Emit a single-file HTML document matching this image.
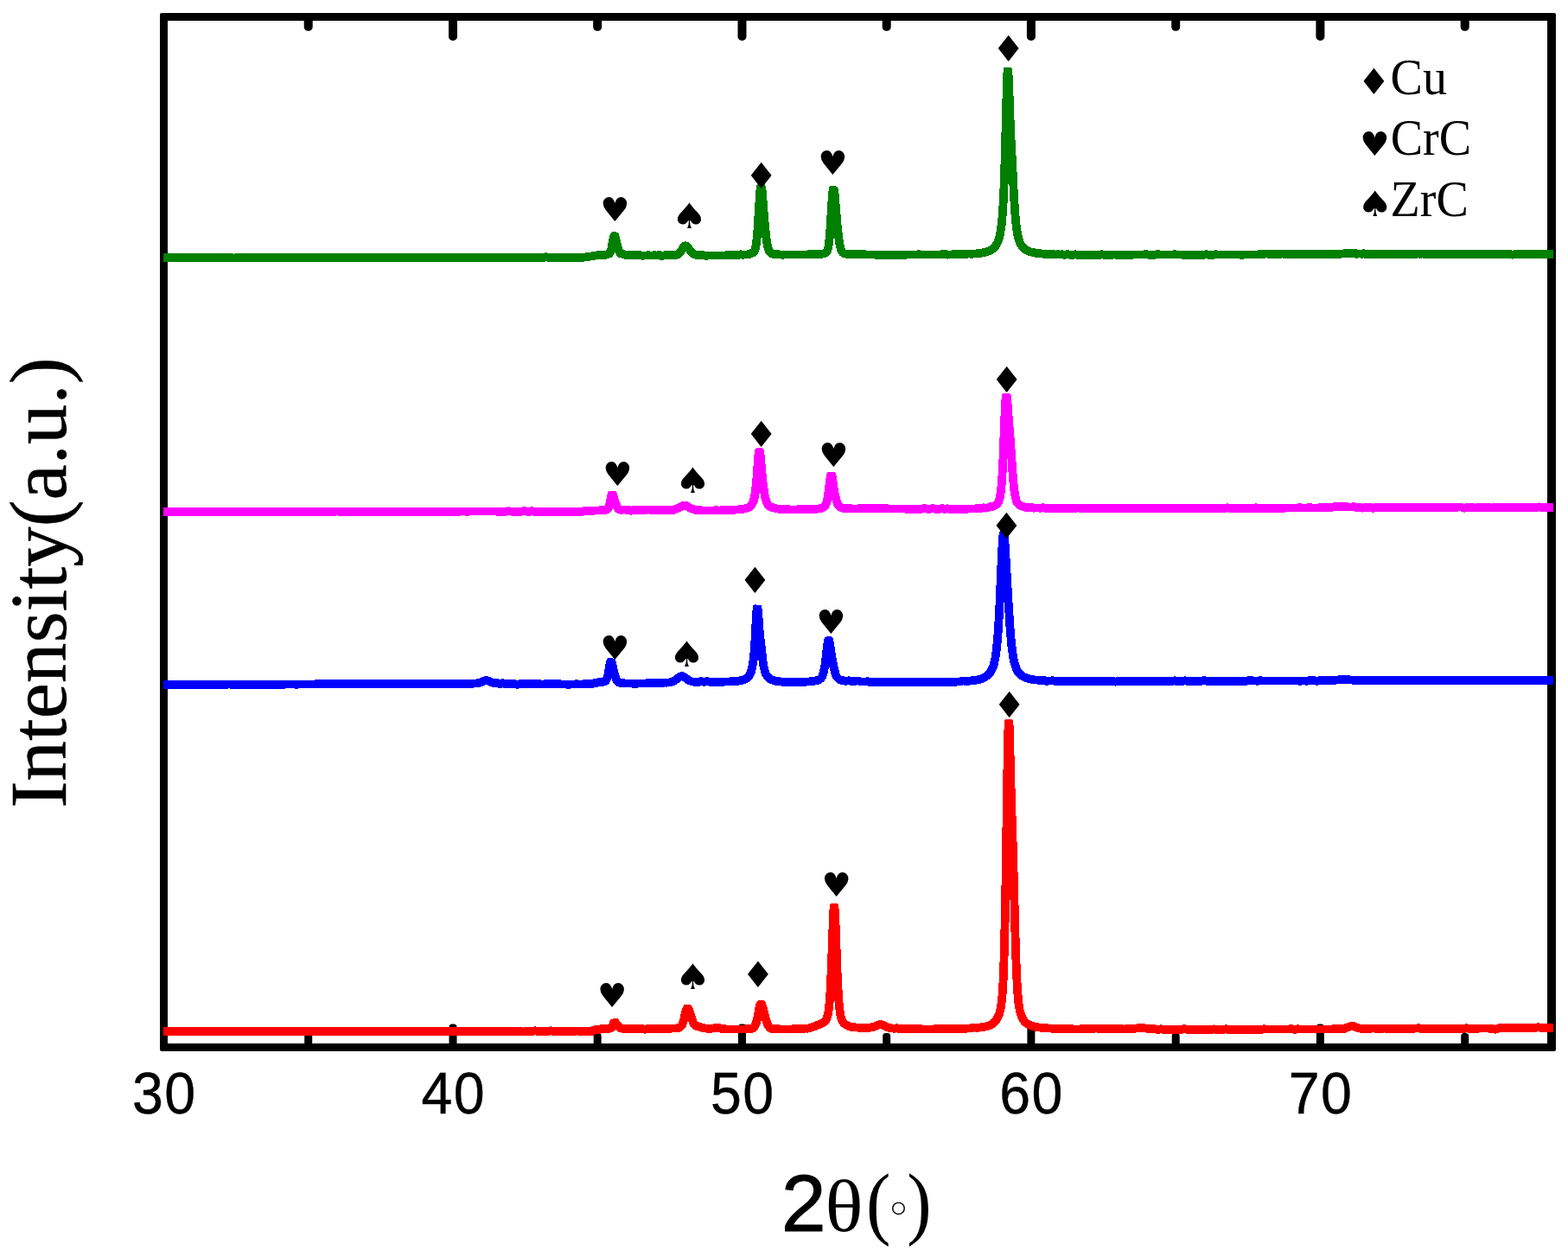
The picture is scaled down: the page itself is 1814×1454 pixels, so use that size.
<!DOCTYPE html>
<html lang="en">
<head>
<meta charset="utf-8">
<title>XRD patterns</title>
<style>
html,body{margin:0;padding:0;background:#fff;}
body{width:1814px;height:1454px;overflow:hidden;position:relative;}
svg{display:block;position:absolute;left:0;top:0;}
text{fill:#000;}
.tk{font-family:"Liberation Sans",sans-serif;text-anchor:middle;letter-spacing:1.4px;stroke:#000;stroke-width:0.4px;}
.ar{font-family:"Liberation Sans",sans-serif;stroke:#000;stroke-width:0.9px;}
.lg{font-family:"Liberation Serif",serif;}
.sy{font-family:"DejaVu Sans",sans-serif;text-anchor:middle;}
.yl{font-family:"Liberation Serif",serif;text-anchor:middle;stroke:#000;stroke-width:0.5px;}
</style>
</head>
<body>
<svg width="1814" height="1454" viewBox="0 0 1814 1454">
<rect x="0" y="0" width="1814" height="1454" fill="#fff"/>
<path fill="#000" d="M351.7 20V31.3A4.5 4.5 0 0 0 356.2 35.8H357.2A4.5 4.5 0 0 0 361.7 31.3V20ZM352.2 1211V1198.5A3.5 3.5 0 0 1 355.7 1195H357.7A3.5 3.5 0 0 1 361.2 1198.5V1211ZM519 20V42.4A4.5 4.5 0 0 0 523.5 46.9H524.5A4.5 4.5 0 0 0 529 42.4V20ZM519.5 1211V1188A3.5 3.5 0 0 1 523 1184.5H525A3.5 3.5 0 0 1 528.5 1188V1211ZM686.2 20V31.3A4.5 4.5 0 0 0 690.7 35.8H691.7A4.5 4.5 0 0 0 696.2 31.3V20ZM686.7 1211V1198.5A3.5 3.5 0 0 1 690.2 1195H692.2A3.5 3.5 0 0 1 695.7 1198.5V1211ZM853.5 20V42.4A4.5 4.5 0 0 0 858 46.9H859A4.5 4.5 0 0 0 863.5 42.4V20ZM854 1211V1188A3.5 3.5 0 0 1 857.5 1184.5H859.5A3.5 3.5 0 0 1 863 1188V1211ZM1020.7 20V31.3A4.5 4.5 0 0 0 1025.2 35.8H1026.2A4.5 4.5 0 0 0 1030.7 31.3V20ZM1021.2 1211V1198.5A3.5 3.5 0 0 1 1024.7 1195H1026.7A3.5 3.5 0 0 1 1030.2 1198.5V1211ZM1187.9 20V42.4A4.5 4.5 0 0 0 1192.4 46.9H1193.4A4.5 4.5 0 0 0 1197.9 42.4V20ZM1188.4 1211V1188A3.5 3.5 0 0 1 1191.9 1184.5H1193.9A3.5 3.5 0 0 1 1197.4 1188V1211ZM1355.2 20V31.3A4.5 4.5 0 0 0 1359.7 35.8H1360.7A4.5 4.5 0 0 0 1365.2 31.3V20ZM1355.7 1211V1198.5A3.5 3.5 0 0 1 1359.2 1195H1361.2A3.5 3.5 0 0 1 1364.7 1198.5V1211ZM1522.4 20V42.4A4.5 4.5 0 0 0 1526.9 46.9H1527.9A4.5 4.5 0 0 0 1532.4 42.4V20ZM1522.9 1211V1188A3.5 3.5 0 0 1 1526.4 1184.5H1528.4A3.5 3.5 0 0 1 1531.9 1188V1211ZM1689.7 20V31.3A4.5 4.5 0 0 0 1694.2 35.8H1695.2A4.5 4.5 0 0 0 1699.7 31.3V20ZM1690.2 1211V1198.5A3.5 3.5 0 0 1 1693.7 1195H1695.7A3.5 3.5 0 0 1 1699.2 1198.5V1211Z"/>
<path fill="#000" fill-rule="evenodd" d="M187 15H1798A2 2 0 0 1 1800 17V1214A2 2 0 0 1 1798 1216H187A2 2 0 0 1 185 1214V17A2 2 0 0 1 187 15ZM194 24H1790V1207H194Z"/>
<path fill="#ff0000" fill-rule="evenodd" shape-rendering="crispEdges" d="M189 1197.8L191.7 1197.8L193.1 1198L193.7 1198L195.4 1197.8L197.9 1197.8L199.6 1197.6L201 1197.6L202.6 1197.9L230.9 1197.9L232 1197.8L237.8 1197.8L239.4 1197.7L241 1197.8L256.7 1197.8L257.7 1197.7L259.8 1197.9L265.1 1197.9L266.6 1197.7L267.3 1197.7L269 1197.9L276.5 1197.9L277.8 1198.1L279.2 1198.1L280.7 1197.9L285.4 1197.9L287.1 1197.7L288.3 1197.7L290 1197.9L294 1197.9L310.7 1197.9L312.2 1197.7L313.7 1197.9L317 1197.9L318.3 1198.1L319 1198.1L320.7 1197.9L329.7 1197.9L330.6 1197.8L354.5 1197.8L355.7 1197.9L368.7 1198L370.1 1197.8L370.9 1197.7L372.6 1198L388.4 1198L389.5 1197.9L399.6 1197.9L401.1 1197.7L401.8 1197.7L403.3 1197.9L412 1197.9L413.1 1198L429 1198L430.4 1197.8L431.6 1197.8L433 1198.1L433.8 1198.2L436.6 1197.8L464.3 1197.8L465.6 1198L477.3 1198L478.7 1197.8L488.4 1197.8L490.9 1197.6L491.5 1197.6L493 1197.8L512.3 1197.8L514 1198L515.7 1198L517.5 1197.8L521.3 1197.8L522.9 1197.7L524.7 1197.9L529.1 1197.9L530.8 1198.1L533.2 1198.1L534.9 1197.9L540.2 1197.9L542 1197.7L543 1197.7L544.8 1197.9L557.3 1197.9L558.1 1197.8L559.4 1197.7L590 1197.7L591.7 1197.9L602.4 1197.9L602.7 1197.9L603.7 1198.2L604.5 1198.3L605.8 1198.3L606.6 1198.2L607.6 1197.9L607.9 1197.9L616.9 1197.8L617.8 1197.7L618.8 1197.3L619.2 1197.2L619.5 1197.3L620.5 1197.7L621.4 1197.8L624.8 1197.8L626.2 1198.1L626.8 1198.2L627.5 1198.1L628.9 1197.8L630.3 1197.8L631.1 1197.7L632.1 1197.4L633.1 1197.7L633.9 1197.8L635.1 1197.8L636 1197.7L637 1197.3L638 1197.7L638.9 1197.8L640.1 1197.8L641.3 1197.9L661.4 1197.9L662.8 1197.8L665.4 1197.8L666 1197.7L667.2 1197.4L667.9 1197.6L669.6 1198.1L670.2 1198.1L671.7 1198.1L672.3 1198.1L673.7 1197.8L677.2 1197.8L678.2 1197.8L679.7 1197.8L684 1197.8L685.7 1197.7L686.5 1197.5L687.3 1197.2L689.3 1196L690.9 1196.2L691.8 1196.2L693.4 1195.9L695.7 1195.2L696.2 1195.1L703 1194.9L706.4 1194.5L707.3 1194.3L708.4 1194L709.1 1193.6L710.1 1193L711 1192.1L712.2 1190.7L713 1191.6L713.8 1192.5L714.5 1193L715.7 1193.7L717 1194.2L717.9 1194.4L719.2 1194.6L720.7 1194.7L723.7 1194.8L728.7 1194.8L730.2 1195L743 1195L743.4 1195L744.4 1195.4L745.2 1195.5L747.2 1195.5L748 1195.4L749 1195L749.4 1195L752 1195L752.9 1194.8L753.5 1194.6L754.2 1194.8L755 1195L768.4 1195L770.2 1194.7L775 1194.6L778.6 1194.4L780.4 1194.5L783.3 1194.2L786 1193.7L787.1 1193.4L788.3 1192.9L789.2 1192.5L789.9 1192L790.8 1191.2L791.6 1190.4L792.3 1189.6L793 1188.6L794 1186.6L795 1184L796 1180.7L797 1183.6L798 1185.7L798.7 1186.9L799.6 1188.2L800.3 1189L801.1 1189.7L802.4 1190.6L804.1 1191.4L807.3 1192.3L808.8 1192.9L810.3 1193.2L813 1193.9L814.8 1194.3L817.2 1194.5L819.6 1194.7L821.9 1194.7L823.6 1194.6L825.3 1194.4L827 1194.1L829.1 1193.6L830 1193.5L830.5 1193.6L832 1194.2L834.2 1194.7L836.6 1195.1L839 1195.3L842.7 1195.4L849.8 1195.4L856.8 1195.4L861.8 1195.3L867 1195.1L868.7 1194.9L870.5 1194.6L871.8 1194.3L873 1193.8L873.8 1193.4L875.1 1192.5L876 1191.6L876.8 1190.6L877.8 1189L878.1 1188.3L879 1186.3L879.7 1184L880.5 1180.9L880.9 1178.9L882.2 1183.4L883 1185.6L883.8 1187.6L884.7 1189.4L886 1191.1L886.8 1192L887.4 1192.6L888.2 1193.2L889 1193.7L890.7 1194.4L892.7 1194.7L895.7 1195L899.3 1195.2L903.6 1195.3L907.8 1195.4L918.5 1195.3L923.5 1195.2L927.8 1195L930.2 1194.8L930.7 1194.8L932.3 1194.4L933.4 1194.5L934.2 1194.6L935.3 1194.4L937.6 1193.9L939.2 1193.6L942.4 1192.5L944.8 1191.6L952.5 1188.3L954.2 1187.5L955.5 1186.7L956.6 1186L957.4 1185.3L958.4 1184.2L959.5 1182.6L960.7 1180.4L961.6 1178.2L962.4 1175.2L963.1 1171.5L963.9 1166.2L964.6 1159L965.1 1152L965.3 1155.4L966 1163.7L966.8 1170.2L967.5 1174.5L968.2 1177.8L969 1180.4L969.9 1182.4L970.8 1184.2L972 1186L972.8 1186.9L973.7 1187.8L975 1188.9L976.8 1190.1L978.7 1191L980.6 1191.8L983.1 1192.5L984 1192.6L985.3 1192.8L988.5 1193.2L992.9 1193.6L998.8 1193.9L1003.3 1193.9L1005.7 1193.7L1007.4 1193.5L1009.1 1193.1L1012.4 1192.3L1014.1 1191.7L1017.4 1190.2L1018 1190.1L1018.3 1190L1019.4 1190.4L1024.6 1192.8L1026.2 1193.3L1027.9 1193.8L1029.5 1194.1L1031.2 1194.4L1035.2 1194.7L1035.7 1194.7L1037.2 1194.2L1038.2 1194.6L1039.4 1194.8L1054.9 1195.1L1056.4 1195.2L1061.4 1195.3L1062.3 1195.1L1063.3 1194.8L1063.7 1194.7L1064.3 1194.7L1064.7 1194.8L1065.7 1195.2L1066.5 1195.3L1074.5 1195.3L1080.3 1195.4L1081.2 1195.2L1082.6 1194.7L1083 1194.6L1083.6 1194.7L1084.6 1195L1085.5 1195.2L1099 1195.2L1109.6 1195L1115.7 1194.9L1117.5 1194.6L1125.5 1194.2L1126.3 1194L1127.4 1193.5L1127.8 1193.4L1128.2 1193.5L1129.1 1193.7L1130 1193.8L1134.6 1193.3L1136.3 1193.2L1137.6 1193L1140.7 1192.4L1143 1191.8L1145.4 1191L1147.3 1190.2L1149.7 1189L1151.5 1187.9L1153.3 1186.4L1154.4 1185.3L1156 1183.5L1157 1182L1157.9 1180.6L1158.6 1179.3L1159.5 1177.4L1160.4 1175.1L1161.1 1172.7L1161.9 1169.8L1162.6 1166.3L1163.4 1161.4L1164.1 1155.3L1164.8 1146.4L1165.5 1134.1L1166.2 1117L1166.9 1093.6L1167.6 1063L1168.2 1028.9L1169.7 1085.1L1170.4 1107L1171.1 1125L1171.8 1139.1L1172.5 1149.9L1173.2 1158.1L1173.9 1163.9L1174.7 1168.3L1175.5 1172.2L1176.3 1174.9L1177.1 1177.2L1177.9 1179.1L1178.8 1180.8L1179.5 1181.9L1180.4 1183.1L1181.5 1184.5L1182.4 1185.6L1184 1187L1185.1 1187.9L1186.9 1189L1188.6 1189.9L1190.4 1190.7L1192.7 1191.5L1195.1 1192.2L1197.5 1192.7L1200.4 1193.2L1206.6 1193.9L1207.1 1193.9L1208.5 1193.5L1209 1193.4L1209.5 1193.5L1209.9 1193.6L1211 1194.1L1211.9 1194.3L1219.8 1194.7L1221.5 1194.9L1226.5 1195.1L1227.4 1194.9L1228.4 1194.6L1228.8 1194.5L1229.3 1194.5L1229.8 1194.6L1230.8 1195L1231.7 1195.2L1236.1 1195.3L1238.6 1195.3L1240 1195L1241.4 1195.3L1249.7 1195.4L1250.6 1195.2L1252.3 1194.6L1253.3 1195L1254.1 1195.2L1264.5 1195.2L1265.3 1195.1L1267.6 1194.3L1267.9 1194.3L1268.4 1194.3L1269.4 1194.7L1269.8 1194.8L1270.8 1195.1L1271.6 1195.2L1275.6 1195.2L1276.5 1195.1L1277.5 1194.7L1278.6 1194.6L1278.9 1194.6L1279.9 1195L1280.7 1195.2L1289 1195.2L1289.8 1195.1L1291.4 1194.6L1293.2 1195.1L1294 1195.2L1298 1195.2L1299.3 1195.3L1301.6 1195.3L1302.4 1195.1L1303.1 1194.9L1303.8 1195.1L1304.6 1195.2L1307.8 1195.1L1310.8 1194.9L1318 1194L1320 1193.9L1321.8 1194L1326.5 1194.6L1328.8 1194.9L1331.9 1195.1L1336 1195.3L1337.9 1195.6L1340.8 1195.6L1341.5 1195.5L1342.9 1195.2L1343.3 1195.2L1344.3 1195.6L1345 1195.7L1362 1195.7L1363.7 1195.5L1368 1195.5L1368.9 1195.3L1369.9 1195L1370.8 1195.3L1371.8 1195.5L1388 1195.5L1389.7 1195.8L1403 1195.8L1403.9 1195.6L1404.5 1195.4L1405.1 1195.6L1406.1 1195.8L1407.6 1195.8L1409.1 1195.6L1416.3 1195.6L1417.2 1195.5L1418.2 1195.1L1419.1 1195.5L1420.1 1195.7L1440.1 1195.7L1441.4 1195.8L1452.3 1195.7L1454.1 1195.5L1461.1 1195.5L1462.1 1195.3L1462.7 1195.1L1463.3 1195.3L1464.2 1195.5L1491.3 1195.4L1492.1 1195.3L1493.1 1194.9L1493.5 1194.9L1494 1194.9L1494.5 1195L1495.5 1195.4L1496.4 1195.5L1499.7 1195.5L1500.6 1195.4L1501.2 1195.1L1501.8 1195.3L1502.7 1195.5L1532.3 1195.4L1543.6 1195.3L1550 1195.1L1553.7 1194.9L1556.3 1194.6L1557.6 1194.2L1558.3 1193.9L1560 1192.9L1561.7 1192.7L1564.3 1191.6L1567.6 1193L1569.4 1193.7L1571.3 1194.2L1573.7 1194.6L1575.4 1194.7L1577.6 1194.8L1584.4 1194.9L1585.1 1194.8L1586.1 1194.5L1587.2 1194.5L1588.3 1194.3L1589.5 1194.2L1590.3 1194.5L1591.9 1194.6L1592.9 1194.8L1593.5 1194.9L1595.6 1194.9L1596 1195L1597 1195.3L1597.8 1195.4L1598.3 1195.4L1599.3 1195.2L1600.8 1194.6L1601.6 1194.4L1602.7 1194.7L1603.3 1194.7L1627.6 1194.6L1629.1 1194.8L1636.3 1194.7L1636.9 1194.6L1638.7 1194.2L1639.4 1193.9L1640 1194.1L1641.1 1194.1L1641.5 1194.2L1642.5 1194.5L1643.4 1194.7L1653.1 1194.7L1654.2 1194.7L1694.7 1194.6L1695.2 1194.6L1696 1194.4L1696.5 1194.2L1697.1 1194.4L1698 1194.5L1699.3 1194.5L1700.7 1194.8L1701.3 1194.9L1702.8 1194.9L1703.4 1194.9L1704.7 1194.6L1710.6 1194.6L1712.3 1194.4L1721.7 1194.5L1723.7 1194.8L1726.3 1194.8L1726.8 1194.9L1727.8 1195.4L1728.8 1195.5L1730.6 1195.6L1731.1 1195.5L1731.5 1195.4L1733.4 1194.6L1735.1 1194L1735.5 1193.9L1744 1193.9L1744.7 1193.9L1746.1 1193.5L1746.5 1193.6L1747.5 1193.9L1748.2 1194L1749.6 1194L1750 1194L1750.8 1194.3L1751.5 1194.4L1752.1 1194.4L1752.7 1194.2L1753.8 1193.7L1754 1193.6L1776.8 1193.7L1777.7 1193.6L1778.7 1193.2L1779.2 1193.1L1779.6 1193.1L1780.1 1193.2L1781.1 1193.6L1782 1193.7L1783.8 1193.7L1785.1 1193.8L1788.8 1193.8L1789.8 1193.7L1791.7 1194.1L1792.3 1194.2L1793 1194.1L1794.4 1193.8L1797 1193.8L1797 1184L1793.7 1184L1792.7 1184.2L1791 1183.7L1790.3 1183.6L1789.5 1183.7L1788.5 1184L1788.2 1184L1785.5 1184L1784.4 1183.9L1782.7 1183.9L1782.2 1183.9L1781.2 1183.5L1780.3 1183.3L1778.5 1183.3L1777.6 1183.5L1776.6 1183.9L1776.1 1183.9L1753.4 1183.8L1752.8 1183.9L1751.5 1184.4L1750.3 1184.2L1748.6 1184.1L1747.6 1183.8L1746.9 1183.7L1745.5 1183.7L1744.8 1183.8L1743.4 1184.1L1735.3 1184.1L1733.6 1184.2L1732.9 1184.4L1732 1184.7L1729.5 1185.7L1729.1 1185.7L1728.1 1185.2L1727.1 1185L1724.4 1185L1722.4 1184.7L1711.7 1184.6L1710 1184.8L1704.1 1184.7L1703.5 1184.8L1702.5 1185.1L1702 1185.1L1700.6 1184.8L1700 1184.7L1698.6 1184.7L1698.2 1184.7L1697.3 1184.3L1696.7 1184.2L1696.1 1184.2L1695.6 1184.3L1694.6 1184.7L1694.1 1184.8L1654.4 1184.9L1653.3 1184.9L1644 1184.9L1643.6 1184.8L1642.6 1184.4L1641.7 1184.3L1639.8 1184.3L1638.5 1184.6L1637.6 1184.5L1637 1184.6L1635.6 1184.9L1629.5 1185L1628 1184.8L1603.9 1184.9L1602.6 1184.6L1602 1184.6L1601.2 1184.6L1600.6 1184.7L1598.9 1185.1L1597.9 1185.5L1597.1 1185.2L1596.3 1185.1L1594.2 1185.1L1592.8 1184.8L1592.2 1184.7L1590 1184.7L1589 1184.9L1588 1184.7L1585.9 1184.7L1585.2 1184.8L1583.8 1185.1L1578 1185L1574.9 1184.8L1573.3 1184.6L1572.3 1184.3L1571.2 1183.9L1568.3 1182.7L1566.6 1182.1L1565.6 1181.9L1564 1181.8L1563 1181.9L1561.7 1182.1L1560.5 1182.6L1558.4 1183.5L1557.6 1183.5L1556.7 1183.6L1555.6 1184.1L1554.6 1184.8L1554 1185L1552.2 1185.2L1549.6 1185.3L1540.6 1185.5L1529 1185.6L1528 1185.6L1503.3 1185.7L1502.9 1185.6L1502 1185.3L1501.4 1185.1L1500.8 1185.2L1500.2 1185.3L1499.3 1185.6L1498.9 1185.7L1497.1 1185.7L1496.6 1185.6L1495.6 1185.2L1494.7 1185.1L1492.8 1185.1L1492 1185.2L1491 1185.6L1490.6 1185.6L1464.9 1185.7L1464.4 1185.6L1463.6 1185.3L1463 1185.1L1462.3 1185.1L1461.7 1185.3L1460.8 1185.6L1460.4 1185.7L1453.4 1185.7L1451.6 1186L1441.8 1186L1440.5 1185.9L1420.8 1185.9L1420.3 1185.8L1419.4 1185.4L1418.4 1185.2L1418 1185.2L1417.1 1185.4L1416.1 1185.8L1415.6 1185.8L1408.5 1185.8L1406.8 1186L1406.4 1185.9L1405.5 1185.6L1404.9 1185.4L1404.2 1185.4L1403.6 1185.6L1402.8 1185.9L1402.3 1186L1390.3 1186L1388.6 1185.8L1372.5 1185.7L1372.1 1185.6L1371.1 1185.2L1370.1 1185L1369.7 1185L1368.8 1185.2L1367.8 1185.6L1367.3 1185.7L1363.1 1185.7L1361.4 1185.9L1345.8 1185.9L1344.4 1185.5L1343.7 1185.4L1342.3 1185.4L1341.6 1185.5L1340.2 1185.8L1338.7 1185.8L1336.9 1185.5L1333 1185.4L1329.8 1185.2L1322.9 1184.2L1321.3 1184.1L1320 1184.1L1318.6 1184.1L1316.9 1184.3L1310.4 1185.1L1308 1185.3L1305.1 1185.4L1304.7 1185.4L1303.8 1185.1L1303 1184.9L1302.2 1185.1L1301.3 1185.4L1300.9 1185.5L1299.7 1185.5L1298.4 1185.4L1294.6 1185.4L1293.3 1185L1292.5 1184.9L1291.5 1185.1L1290.5 1184.9L1289.7 1185L1288.7 1185.3L1288.4 1185.4L1281.5 1185.4L1281 1185.3L1280 1184.9L1279 1184.7L1277.3 1184.8L1276.4 1185L1275.4 1185.3L1275 1185.4L1272.3 1185.4L1271.9 1185.4L1270.9 1185L1270.1 1184.9L1268.8 1184.9L1267.7 1185.1L1266.6 1184.9L1266 1184.9L1265.2 1185L1264.2 1185.3L1263.9 1185.4L1254.9 1185.4L1254.4 1185.3L1253.4 1184.9L1252.6 1184.7L1251.8 1184.7L1250.2 1185L1249.5 1185.2L1248.9 1185.5L1248.5 1185.6L1242.2 1185.5L1240.8 1185.2L1240.1 1185L1239.4 1185.1L1238 1185.5L1232.6 1185.4L1232.1 1185.3L1231.1 1184.9L1230.2 1184.7L1228.4 1184.7L1227.5 1184.8L1226.5 1185.2L1226.1 1185.3L1222.5 1185.2L1220.8 1184.9L1213.3 1184.6L1212.8 1184.5L1211.8 1184L1210.9 1183.7L1209.1 1183.6L1208.6 1183.6L1206.9 1184.1L1201.8 1183.5L1199.4 1183.1L1197.5 1182.7L1195.7 1182.2L1194.5 1181.8L1192.9 1181.1L1191.8 1180.5L1190.8 1179.8L1189.8 1179L1188.8 1178L1187.8 1176.7L1186.7 1174.8L1186.2 1173.5L1185.6 1171.7L1184.9 1169.6L1184.3 1166.6L1183.7 1162.6L1183 1157L1182.3 1149.1L1181.6 1138.6L1180.9 1124.6L1180.2 1106.7L1179.5 1084.8L1177.4 1004L1176.7 979.3L1175.3 938.3L1174.6 915.9L1173.2 861.4L1172.5 839.1L1172.1 834.1L1172 833.5L1171.7 833L1171.3 832.5L1170.8 832.1L1170.2 831.9L1169.6 831.8L1164.5 831.9L1163.8 832L1163.3 832.2L1162.8 832.6L1162.4 833.1L1162.1 833.7L1162 834.3L1161.3 847.9L1160.6 883.8L1158.5 1024.5L1157.8 1062.7L1157.1 1093.3L1156.4 1116.6L1155.7 1133.6L1155 1145.7L1154.3 1154.2L1153.6 1160.2L1153 1164.4L1152.3 1167.6L1151.7 1170L1151.1 1172L1150.5 1173.5L1149.4 1175.7L1148.3 1177.4L1147.3 1178.5L1146.3 1179.5L1144.8 1180.5L1143.7 1181.1L1142.1 1181.8L1140.9 1182.2L1139.1 1182.7L1135.4 1183.4L1133.9 1183.5L1129.7 1184L1129.3 1183.9L1128.4 1183.7L1127.6 1183.6L1126.3 1183.7L1125.6 1183.9L1124.5 1184.3L1124.1 1184.4L1116.6 1184.8L1114.8 1185.1L1102.4 1185.3L1086.2 1185.4L1085.7 1185.3L1084.7 1185L1083.8 1184.8L1082.3 1184.8L1080.9 1184.9L1079.3 1185.6L1068.9 1185.5L1067.2 1185.5L1066.8 1185.4L1065.8 1185.1L1065 1184.9L1063.1 1184.9L1062.2 1185.1L1061.2 1185.4L1060.8 1185.5L1057 1185.4L1055.5 1185.3L1040.2 1185.1L1039.7 1184.9L1038.7 1184.5L1037.8 1184.3L1037.4 1184.3L1036.9 1184.3L1036.4 1184.4L1035.3 1184.9L1033 1184.7L1030.7 1184.4L1029 1183.9L1028.1 1183.6L1024 1181.7L1022.2 1180.9L1020.4 1180.4L1018.7 1180.2L1017.1 1180.3L1015.2 1180.7L1013.2 1181.4L1009.8 1182.9L1007 1183.6L1005.3 1183.9L1002.3 1184.1L998.3 1184.1L993.6 1183.9L989.7 1183.5L986.6 1183L985.3 1182.9L983.7 1182.5L982.7 1182.1L981.8 1181.6L980.9 1181.1L980.1 1180.4L979.7 1179.9L979.2 1179.2L978.8 1178.3L978.3 1177.1L977.7 1175.4L977.1 1172.7L976.5 1168.6L975.8 1162.9L975.1 1154.7L974.4 1143.6L973.7 1129.4L973 1112L971.6 1071.9L970.9 1054.9L970.2 1047.3L970 1046.7L969.8 1046.1L969.4 1045.7L968.9 1045.3L968.4 1045.1L967.8 1045L962.4 1044.8L961.9 1044.9L961.3 1045L960.8 1045.4L960.4 1045.8L960.1 1046.3L959.9 1046.9L959.7 1048.3L959 1061.1L956.9 1119.4L956.2 1135.6L955.5 1148.4L954.8 1158.1L954.1 1165.1L953.5 1170L952.8 1173.1L952.2 1175.3L951.8 1176.4L951.4 1177.2L950.9 1177.8L950.3 1178.4L949.6 1178.9L948.6 1179.3L940.4 1182.8L936.6 1184.1L934.9 1184.5L933.5 1184.8L931.5 1184.6L930.8 1184.7L930.1 1185L927.2 1185.2L921.8 1185.4L916.3 1185.5L907.8 1185.6L901.7 1185.5L896.4 1185.2L893.6 1184.9L893.2 1184.4L892.7 1183.4L892.2 1182.2L891.6 1180.5L890.3 1175.8L888.2 1167.3L887.4 1164.6L886.6 1161.8L885.8 1159.8L885.1 1158.6L884.6 1158.1L884.2 1157.7L883.7 1157.4L883.1 1157.3L878.9 1156.7L878.3 1156.6L877.7 1156.8L877.1 1157.1L876.7 1157.5L875.7 1158.7L875.3 1159.3L874.5 1161.2L873.7 1164.4L871.6 1175.4L870.9 1178.6L870.3 1181.3L869.7 1183L869.2 1184.1L868.8 1184.8L868.6 1185L867.4 1185.2L864.9 1185.4L860.2 1185.6L854 1185.6L845 1185.6L839.6 1185.5L837.7 1185.3L836.1 1185.1L835.2 1184.9L833.6 1184.2L832.8 1184L831.4 1183.8L830 1183.7L829 1183.7L828 1183.8L824.4 1184.6L822.8 1184.8L821 1184.9L818.6 1184.8L816.8 1184.7L815.1 1184.4L813 1183.8L811.8 1183.6L810 1182.9L807.5 1182.2L807.3 1182.1L807 1181.7L806.6 1180.9L806 1179.8L805.4 1178.1L803.4 1171.4L802.6 1169.3L801.8 1167.1L800.9 1165.1L800.3 1164L800 1163.5L799.1 1162.6L798.5 1162.1L797.8 1161.8L797.1 1161.7L792.8 1162L792.2 1162.1L791.7 1162.3L791.2 1162.7L790.9 1163.1L790.1 1164.4L789.8 1164.9L789.1 1167L788.3 1169.9L786.9 1176.3L786.3 1178.9L785.7 1181L785.1 1182.5L784.5 1183.7L784.2 1184L783.9 1184.2L782.5 1184.4L780.2 1184.7L778.6 1184.6L774.8 1184.8L769.5 1184.9L767.7 1185.2L755.7 1185.2L755.3 1185.1L754.4 1184.8L753.9 1184.7L753.3 1184.7L752.7 1184.8L751.8 1185.1L751.4 1185.2L748.7 1185.2L747.9 1185.3L746.9 1185.6L746.5 1185.7L745.5 1185.6L744.5 1185.3L743.7 1185.2L730.8 1185.2L729.3 1185L723.2 1185L720.3 1184.9L720.1 1184.8L718.9 1183L718.4 1182.4L716.3 1180.8L715.6 1179.3L715.2 1178.8L714.7 1178.2L714.1 1177.9L713.4 1177.7L712.7 1177.7L707.6 1178.7L707.1 1178.9L706.6 1179.2L706.1 1179.6L705.8 1180.1L705.4 1180.9L705.1 1181.9L704.4 1184L704.1 1184.9L701.9 1185.1L695.2 1185.3L693.3 1185.7L691.1 1186.3L689.5 1186.1L689 1186.2L685.8 1186.8L685.2 1187L684.4 1187.4L683.7 1188L683.6 1188L678.7 1188.1L677.5 1188L673 1188L672.4 1188L671.2 1188.3L670.5 1188.1L668.8 1187.7L668.2 1187.6L666.7 1187.6L666.1 1187.7L664.7 1188L662.3 1188L660.9 1188.1L641.6 1188.1L640.6 1188L639.6 1188L639.1 1187.9L638.1 1187.6L637.2 1187.4L636.8 1187.4L635.9 1187.6L634.9 1187.9L634.5 1188L634.2 1188L633.2 1187.6L632.4 1187.5L631.8 1187.5L631 1187.6L630 1188L629.6 1188L628.2 1188L626.8 1188.3L625.5 1188L622.1 1188L621.6 1187.9L620.6 1187.6L619.7 1187.4L618.6 1187.4L617.7 1187.6L616.7 1187.9L616.2 1188L607.3 1188.1L606.5 1188.2L605.5 1188.5L605.2 1188.5L604.8 1188.5L603.8 1188.2L603 1188.1L592.3 1188.1L590.6 1187.9L558.8 1187.9L557.1 1188.1L545.5 1188.1L543.7 1187.9L541.3 1187.9L539.5 1188.1L534.3 1188.1L532.6 1188.3L531.4 1188.3L529.7 1188.1L525.2 1188.1L523.4 1187.8L522 1187.9L520.6 1188L516.8 1188L515.4 1188.2L514.6 1188.2L512.9 1188L493.6 1188L491.9 1187.8L490.7 1187.8L489.1 1187.9L487.8 1188L478.2 1188L476.8 1188.2L466 1188.2L464.7 1188L436.2 1188L433.8 1188.3L432.9 1188.1L432.3 1188L429.9 1188L428.5 1188.2L413.3 1188.2L412.2 1188.1L403.9 1188.1L402.4 1187.9L400.5 1187.9L399 1188.1L389.3 1188.1L388.2 1188.2L373.2 1188.2L371.5 1187.9L369.8 1187.9L368 1188.2L356 1188.1L354.8 1188L330.4 1188L329.5 1188.1L320.1 1188.1L319 1188.2L317.6 1188.1L314.3 1188.1L312.8 1187.9L311.4 1187.9L310.1 1188.1L293.8 1188.1L290.6 1188.1L288.9 1187.9L286.5 1187.9L284.8 1188.1L280.1 1188.1L278.6 1188.3L277.1 1188.1L269.6 1188.1L267.9 1187.9L266.2 1187.9L264.5 1188.1L260 1188.1L258.1 1187.9L257.4 1187.9L256.1 1188L241.6 1188L240.2 1187.9L238.9 1187.9L237.2 1188L231.8 1188L230.7 1188.1L203.2 1188.1L201.3 1187.8L199 1187.8L197.3 1188L194.8 1188L193.7 1188.2L192.3 1188L189 1188Z"/>
<path fill="#0000ff" fill-rule="evenodd" shape-rendering="crispEdges" d="M189 797L193 797L194.7 796.7L196.1 796.7L197.6 797L212 796.9L213.1 796.9L245.7 796.8L246.6 796.7L256 796.7L257.1 796.6L258.5 796.7L262.3 796.7L264 796.5L265.8 796.4L267.6 796.7L276.4 796.7L278 796.5L279.2 796.5L280.9 796.6L284.5 796.6L285.7 796.7L290.4 796.7L291.9 796.5L293.4 796.5L294.9 796.7L318.4 796.5L320.7 796.6L322.1 796.7L324 796.7L325.4 796.5L330.3 796.5L331.6 796.4L332.7 796.5L340.1 796.4L341.8 796.7L344.2 796.6L346 796.4L364.6 796.3L366.2 796.2L366.8 796.2L368.4 796.3L375.7 796.3L376.7 796.3L414.3 796.2L415.7 796.4L416.4 796.4L418 796.2L420.5 796.2L422.3 796L424.4 796.2L431.1 796.1L434.1 795.8L435.3 795.8L437 796L477.4 795.9L489.9 795.9L491.1 795.8L492.2 795.9L520.5 795.8L521.6 795.9L533.2 795.8L535 795.6L536.4 795.7L541.7 795.7L543.2 795.6L544.1 795.6L546.9 795.6L549.9 795.4L552.8 795.1L554.7 794.8L556.7 794.3L558.3 793.7L561.7 792.2L562.3 792L562.6 792.1L563.1 792.2L567.5 794L570 794.7L571.2 795L572.2 795L573.2 794.8L573.9 794.8L575.4 795.4L576.6 795.6L579.7 795.7L580.2 795.7L581.6 795.2L582.6 795.6L583.5 795.8L587.8 795.8L589.5 796.1L592.4 796.1L593.3 795.9L593.9 795.7L594.5 796L595.7 796.2L596.7 796.5L597.4 796.6L599.5 796.6L600.2 796.5L601.6 796.2L621.3 796.3L621.9 796.2L623.2 795.9L623.7 796L624.8 796.2L625.4 796.3L629.7 796.3L631.5 796.1L647.1 796.2L648.2 796.3L654 796.3L654.5 796.4L655.5 796.8L656.3 796.9L658.2 796.9L659.1 796.8L660.1 796.4L660.5 796.3L665.4 796.3L666 796.3L667.1 796L668.2 796.2L668.8 796.3L675.2 796.3L676 796.1L676.8 795.8L677.1 795.8L677.6 795.9L678.8 796.2L679.6 796.3L684.3 796.1L686.3 795.9L687 795.7L688.1 795.2L688.9 795.2L689.8 795.2L695.1 793.5L698.7 793.5L700.1 793.3L701.5 792.9L702.7 792.3L703.7 791.6L704.7 790.6L705.4 789.7L705.9 788.8L706.8 786.8L707.4 784.9L708.1 786.9L708.8 788.4L709.2 789.1L710.1 790.6L710.9 791.6L711.8 792.5L713 793.4L713.9 793.9L714.6 794.1L715.7 794.5L717.3 794.9L718.4 795L720.7 795.2L723 795.3L730.4 795.4L730.8 795.5L731.7 795.8L732.3 795.9L732.9 795.9L734 795.6L734.6 795.8L735.5 795.9L736.7 795.9L737.5 795.8L738.5 795.4L738.9 795.3L746.9 795.3L758.2 795L767.4 794.8L768.4 794.7L769.2 794.4L769.9 794.6L770.6 794.6L773.3 794.4L775.6 794.1L777.3 793.8L778.4 793.5L779.4 793.2L780.7 792.7L781.2 792.4L782.2 791.8L783.4 791.2L784 790.8L785.6 789.7L787.8 787.9L788.7 787.2L789.6 787.8L791.7 789.4L793.2 790.4L794.3 791L796.1 792L797.2 792.4L798.7 792.9L800.6 793.3L802.1 793.5L802.4 793.6L803.6 794.1L804.5 794.3L805 794.3L805.9 794.2L807 793.9L807.4 793.8L808.7 793.8L809.6 793.6L810.8 793.2L812.8 793.4L813.8 793.7L814.6 793.8L815.1 793.8L816 793.6L817 793.2L817.8 793.1L818.7 793.2L820.1 793.6L820.9 793.7L822.7 793.7L838 793.5L847.3 793.2L853.1 792.8L857.7 792.1L859.2 791.8L859.9 791.5L862.9 790.5L864.5 789.8L865.5 789.2L866.7 788.4L867.8 787.6L868.8 786.7L869.5 785.8L870.8 784.2L871.6 782.8L872.3 781.4L873.3 779.3L874.1 776.5L874.9 773.4L875.6 769.6L876.4 764.7L876.9 759.4L877.9 766.8L878.6 771.1L879.4 775L880.1 777.9L881 780.4L881.7 782L882.6 783.6L883.8 785.4L884.5 786.4L885.5 787.4L886.8 788.5L888.6 789.7L890.6 790.7L895.1 792.3L897.2 792.8L898 792.8L899.4 792.6L899.9 792.5L900.3 792.7L901.4 793.2L902.2 793.4L906.2 793.7L910.7 794L911.6 793.8L912.6 793.5L913.6 793.9L914.5 794.1L916.3 794.1L917.2 794.1L918.6 793.8L926.2 793.7L932.6 793.5L937.7 793.2L941.5 792.8L943.8 792.4L946.5 791.8L947.5 791.5L948.3 791.2L949.3 790.8L950.5 790.1L951.5 789.4L952.7 788.5L953.5 787.6L954.5 786.3L955.6 784.4L956.6 782.1L957.5 779.1L958.2 775.8L959.2 770L960.5 776.1L961.3 779.2L962.1 781.4L962.8 783.3L964.1 785.6L965.1 787L965.9 787.9L967 789L968.1 789.8L969.3 790.5L970.6 791.1L971.7 791.3L972.2 791.4L973.1 791.8L973.6 792L974.1 792.1L979 792.7L979.5 792.7L981 792.3L981.5 792.2L982 792.2L982.5 792.3L983.6 792.8L984.5 793L987.9 793.2L988.6 793.1L990.6 792.6L991.2 792.4L992.5 792.3L994.8 793.2L995.8 793.4L1001.3 793.5L1001.9 793.4L1003 793.2L1004.1 793.5L1004.7 793.6L1014.1 793.7L1015.9 794L1041.3 794.2L1043.2 793.9L1046.8 793.9L1047.5 793.8L1048.9 793.5L1050 793.5L1051 793.8L1051.7 793.9L1053.1 794L1053.8 793.8L1054.8 793.5L1055.2 793.5L1056.3 793.5L1057.3 793.9L1058.1 794L1069.9 794.1L1070.7 793.9L1071.7 793.5L1072.1 793.5L1072.7 793.5L1073.1 793.5L1074.1 793.9L1074.9 794.1L1084.2 794L1085.9 794.3L1100.2 794.1L1102.1 793.7L1110 793.4L1110.8 793.3L1111.9 792.9L1113.1 792.7L1113.6 792.5L1114 792.2L1114.4 792.2L1116.4 792.8L1117.4 792.9L1121.9 792.5L1125.5 792.1L1127.2 792L1130 791.5L1132.3 791.1L1134.7 790.5L1137 789.7L1138.7 789.1L1140.4 788.3L1142.1 787.4L1143.9 786.2L1145.4 785.1L1146.6 784.1L1148.1 782.4L1149.2 781.1L1150.7 778.8L1151.6 777.2L1152.5 775.2L1153.4 773.2L1154.1 770.9L1154.8 768.5L1155.6 765L1156.3 761.2L1157 756.8L1157.8 751L1158.5 744.3L1159.2 736.1L1159.9 726.3L1160.6 714.7L1161.6 695L1163.4 723.4L1164.1 732.6L1164.8 740.7L1165.5 747.7L1166.3 753.6L1167 758.5L1167.7 762.8L1168.4 766.2L1169.2 769.2L1169.9 771.7L1170.7 773.9L1171.5 775.8L1172.3 777.5L1173.3 779.2L1174.2 780.6L1175.1 781.7L1176.7 783.5L1177.8 784.5L1179.6 785.8L1181.2 786.8L1182.9 787.7L1184.6 788.5L1186.4 789.1L1188.7 789.8L1191 790.4L1193.4 790.8L1196.2 791.3L1197.9 791.3L1202.2 791.7L1207.5 792.1L1207.9 792.2L1209 792.6L1209.8 792.8L1211.7 792.9L1212.6 792.8L1213.6 792.4L1214.1 792.4L1216 792.4L1216.9 792.3L1217.5 792.1L1218.1 792.3L1219 792.5L1224.8 792.6L1226.5 792.9L1252.5 793.1L1253.8 793.2L1266 793.3L1267.9 793L1270.8 793L1271.6 792.8L1272.6 792.5L1273.6 792.8L1274.4 793L1279.4 793L1281.3 793.3L1282.7 793.3L1284 793L1288.2 793L1288.7 793.1L1289.5 793.4L1290.1 793.6L1290.8 793.6L1291.4 793.4L1292.2 793.1L1292.7 793L1310 793L1310.8 792.9L1311.8 792.6L1312.9 792.9L1313.6 793L1346.7 792.9L1348.2 792.7L1349.2 792.7L1349.6 792.8L1350.6 793.1L1351.4 793.3L1352 793.3L1352.8 793.1L1353.8 792.8L1354.2 792.7L1357 792.7L1357.7 792.6L1358.7 792.3L1359.8 792.6L1360.5 792.7L1369.5 792.6L1370.3 792.5L1371 792.2L1371.6 792.4L1372.5 792.6L1376.5 792.6L1376.9 792.7L1377.9 793L1378.8 793.2L1380 793.2L1380.9 793L1381.9 792.6L1382.3 792.6L1390.5 792.5L1391.3 792.4L1392.3 792.1L1392.7 792L1393.1 792.1L1394.1 792.4L1394.8 792.5L1401.5 792.5L1403 792.6L1424.3 792.5L1426.1 793L1427.5 793.1L1428.4 793.1L1429 793L1430.4 792.7L1431.9 792.7L1433.3 793L1434 793.1L1434.7 793L1436 792.6L1442.2 792.6L1443.2 792.4L1444.8 792L1445.9 792.3L1446.6 792.4L1447.4 792.2L1448 792L1448.6 792.2L1449.5 792.4L1452.4 792.4L1454.1 792.6L1456.3 792.5L1457.1 792.4L1458.1 792.1L1458.5 792L1458.8 792.1L1459.8 792.4L1460.6 792.5L1501.1 792.3L1501.5 792.3L1502.5 792.7L1503.3 792.8L1504.6 792.8L1505.4 792.7L1506.4 792.3L1506.8 792.3L1508.9 792.3L1510.3 792.6L1511 792.7L1511.7 792.7L1512.3 792.6L1513.7 792.2L1521.4 792.2L1521.8 792.3L1522.7 792.6L1523.3 792.7L1523.9 792.7L1524.4 792.6L1525.3 792.3L1526.5 792L1527.1 791.8L1527.7 792L1528.6 792.2L1538.8 792L1542.5 791.8L1546.7 791.4L1548.6 791.5L1550 791.3L1551.3 790.8L1553.5 790.7L1556.1 790.7L1558 790.5L1559 790.7L1560.2 791.1L1560.7 791.2L1565.4 791.7L1567.1 791.6L1570.6 791.7L1574.9 791.8L1593 791.9L1594.9 792.2L1606.8 792.2L1607.6 792.1L1608.6 791.7L1609 791.6L1610.3 792L1611.2 792.2L1633.7 792.2L1635.1 792L1636.2 791.6L1636.8 791.9L1637.8 792L1659.6 792L1660.8 791.9L1668.4 791.9L1669.1 791.8L1670.5 791.5L1670.9 791.5L1672 791.8L1672.7 791.9L1726.2 792L1727.7 792.1L1749.6 792.1L1750.4 792L1751.4 791.7L1752.5 791.6L1752.8 791.7L1753.8 792L1754.6 792.1L1755.3 792.1L1755.9 792L1757.3 791.7L1775.8 791.7L1777.5 791.9L1788.8 791.9L1789.6 791.8L1790.6 791.5L1791.6 791.4L1792 791.5L1793 791.8L1793.8 791.9L1796.5 791.9L1797 792L1797 782.1L1794.5 782.1L1794.1 782L1793.1 781.7L1792.3 781.6L1790.3 781.6L1789.5 781.7L1788.5 782L1788.1 782.1L1778.1 782.1L1776.4 781.9L1756.6 781.9L1756 782L1754.9 782.2L1753.9 781.9L1753.1 781.8L1751.1 781.8L1750.3 781.9L1749.3 782.2L1749 782.3L1728.3 782.3L1726.8 782.2L1673.3 782.1L1671.9 781.8L1671.2 781.7L1669.9 781.7L1669.2 781.8L1667.8 782.1L1660.5 782.1L1659.3 782.2L1638.5 782.2L1638.1 782.1L1637.1 781.7L1636.1 781.6L1635.7 781.6L1634.7 781.7L1633.4 782.3L1632.9 782.4L1611.8 782.4L1611.4 782.3L1610.4 782L1609.3 781.8L1608.3 781.8L1607.5 782L1606.5 782.3L1606.1 782.4L1595.5 782.4L1593.6 782.1L1576.4 782L1570.9 781.9L1567.1 781.8L1565.4 781.8L1562.6 781.6L1561.2 781.1L1560.6 780.9L1558.3 780.7L1557.7 780.7L1556.3 780.9L1554.1 780.9L1551.5 781L1549.6 781.1L1549 781.3L1547.8 781.7L1546.2 781.6L1542.4 782L1539.1 782.2L1535 782.3L1529.3 782.4L1528.8 782.3L1528 782L1527.3 781.8L1526.7 781.8L1526.1 782L1525.2 782.3L1524.5 782.5L1523.5 782.8L1522.9 782.6L1522 782.4L1513 782.5L1512.4 782.5L1511.3 782.8L1510.2 782.6L1509.5 782.5L1506.1 782.5L1505.3 782.6L1504.3 783L1503.9 783L1503.6 783L1502.6 782.6L1501.8 782.5L1461.3 782.7L1460.9 782.7L1459.9 782.3L1459.1 782.2L1457.8 782.2L1457 782.3L1456 782.7L1455.6 782.8L1454.7 782.8L1453 782.6L1450.1 782.6L1449.7 782.5L1448.8 782.2L1448.2 782L1447.6 782.1L1446.4 782.4L1445.1 782.2L1444.4 782.2L1443.7 782.3L1442.3 782.7L1441.1 782.8L1435.3 782.9L1433.9 783.1L1432.5 782.9L1429.7 782.9L1429.1 783L1427.9 783.3L1426.8 783.2L1425.5 782.8L1424.9 782.7L1403.4 782.8L1401.9 782.7L1395.4 782.7L1395 782.6L1394 782.3L1393.3 782.2L1392 782.2L1391.2 782.4L1390.2 782.7L1389.8 782.7L1381.5 782.8L1380.6 782.9L1379.6 783.3L1379.3 783.4L1379 783.3L1378 782.9L1377.1 782.8L1373.1 782.8L1372.7 782.7L1371.8 782.4L1371.2 782.3L1370.6 782.3L1370 782.4L1369.2 782.7L1368.7 782.8L1361.1 782.9L1359.7 782.5L1359 782.4L1358.3 782.4L1357.6 782.5L1356.3 782.9L1353.5 782.9L1352.7 783L1351.7 783.4L1350.7 783L1349.9 782.9L1347.6 782.9L1346.1 783.1L1314.2 783.2L1312.8 782.8L1312.1 782.7L1311.5 782.7L1310.7 782.8L1309.4 783.2L1291.9 783.2L1291.1 783.4L1290.5 783.6L1289.8 783.3L1288.9 783.2L1283.4 783.2L1281.7 783.5L1280 783.2L1275.1 783.2L1274.7 783.1L1273.7 782.7L1272.9 782.6L1272.3 782.6L1271.5 782.7L1270.5 783.1L1270.1 783.2L1267.3 783.2L1265.4 783.5L1254.2 783.4L1252.9 783.3L1227.3 783.1L1225.6 782.9L1220 782.7L1219.6 782.7L1218.7 782.3L1218.1 782.1L1217.5 782.1L1216.9 782.2L1216 782.6L1215.6 782.6L1213.7 782.6L1212.8 782.7L1211.9 783L1211.4 783.1L1210.6 783L1209.6 782.5L1208.7 782.3L1203 782L1198.4 781.5L1196.9 781.5L1193.8 780.9L1191.3 780.4L1189.5 779.8L1188.3 779.4L1186.7 778.7L1185.6 778.1L1184.6 777.3L1183.6 776.5L1182.6 775.4L1182.1 774.7L1181 773L1180.5 771.9L1179.9 770.4L1179.3 768.8L1178.6 766.6L1178 764.1L1177.3 760.9L1176.6 757L1176 752.3L1175.3 746.6L1174.6 739.8L1173.9 731.8L1173.2 722.7L1171.8 701.3L1167.6 630.5L1166.8 620.7L1166.2 616.9L1166 616.3L1165.6 615.7L1165.2 615.3L1164.6 615L1163.9 614.8L1158.4 614.3L1157.7 614.4L1157 614.6L1156.5 615.1L1156 615.6L1155.8 616.3L1155 623.7L1154.3 636.4L1151.5 700.7L1150.8 714.1L1150.1 725.6L1149.4 735.3L1148.7 743.4L1148 750L1147.4 755.3L1146.7 759.6L1146 763.1L1145.4 765.8L1144.7 768.1L1144.1 769.9L1143.5 771.5L1142.4 773.7L1141.8 774.6L1140.8 775.9L1139.8 777L1138.7 777.9L1137.7 778.6L1136 779.5L1134.4 780.2L1132.6 780.9L1130.7 781.4L1128.2 781.9L1126.4 782.2L1124.8 782.3L1121.6 782.7L1117.2 783.1L1116.8 783.1L1116 782.8L1115.4 782.7L1114.8 782.8L1113.9 783L1113 782.9L1111 783.1L1110.3 783.2L1109.3 783.6L1108.9 783.7L1101.3 783.9L1099.4 784.3L1086.5 784.4L1084.8 784.2L1075.6 784.3L1075.2 784.2L1074.2 783.8L1073.4 783.7L1071.4 783.7L1070.6 783.8L1069.6 784.2L1069.2 784.3L1058.8 784.2L1058.4 784.1L1057.4 783.8L1056.6 783.7L1054.6 783.7L1053.9 783.8L1052.9 784.1L1052.5 784.2L1052.1 784.1L1051.1 783.8L1050.4 783.7L1048.3 783.7L1047.6 783.8L1046.2 784.1L1042.6 784.1L1040.7 784.4L1016.6 784.2L1014.8 783.9L1005.5 783.8L1004.2 783.4L1003.6 783.3L1002.8 783.3L1002.2 783.4L1000.8 783.7L996.7 783.6L996.3 783.5L995.3 783.1L994.4 782.9L993.2 782.8L992.3 783L991.8 783.1L991 783L989.5 783L988.9 783.1L987.5 783.3L985.7 783.3L985.2 783.2L984.2 782.7L983.3 782.5L981.1 782.4L979.6 782.8L979.3 782.9L976.5 782.5L975.3 782.4L974.8 782.3L973.2 781.4L972.7 780.9L972.3 780.2L971.8 779.3L971.3 778L970.7 776.2L970.1 773.9L969.4 770.9L968 763.6L966.6 755.2L965.2 745.8L964.5 741.7L963.8 739L963.5 738.3L962.9 737.4L962.5 736.8L961.9 736.5L961.3 736.2L960.6 736.2L956.2 736.5L955.6 736.6L955 736.9L954.5 737.3L954.1 737.9L953.7 738.9L953.5 739.4L952.7 742.7L952 747.9L950.6 760.2L949.9 765.6L949.3 770.3L948.6 773.9L948 776.7L947.4 778.7L946.9 779.9L946.5 780.6L946.1 781.2L945.7 781.6L944.6 782.1L942.5 782.6L940.1 783.1L937.5 783.4L934.2 783.6L929.4 783.8L923.9 784L918 784L916.1 784.3L915.5 784.3L915.1 784.2L914.1 783.8L913.2 783.6L912.8 783.6L911.8 783.8L910.9 784.1L910.4 784.2L909.5 784.1L904 783.7L903.6 783.6L902.5 783.1L901.8 782.9L900.7 782.8L899.7 782.8L898.7 783.1L897.8 782.9L894.9 781.9L893.6 781.3L892.4 780.4L891.5 779.4L891.1 778.8L890.6 777.9L890.1 776.6L889.5 775L888.9 772.6L888.2 769.5L887.5 765.2L886.9 759.9L885.5 747L884.1 735L883.4 727.8L882 708L881.2 701.9L881.1 701.2L880.7 700.6L880.2 700.2L879.6 699.8L878.9 699.7L873.5 699.4L872.9 699.4L872.3 699.6L871.8 699.9L871.3 700.4L871 700.9L870.8 701.8L870.1 711.1L868.7 737.7L868 748.7L867.3 757.1L866.6 763.4L866 768L865.3 771.4L864.7 773.9L864.1 775.8L863.6 777.1L863.1 778.1L862.6 778.8L862.1 779.4L861.7 779.9L861 780.5L860.2 781L859.2 781.4L856.6 782.3L854.7 782.6L852 783L847.4 783.4L841.9 783.6L835 783.8L822.8 783.9L821 783.8L819.9 783.5L818.3 783.3L816.6 783.3L815.7 783.5L814.7 783.9L813.7 783.6L813 783.5L811.4 783.4L810.4 783.3L809.4 783.5L808.5 783.9L808 784L807 784L806.1 784.1L805.3 784.4L804.4 784L803.6 783.8L801.8 783.6L800.2 783.1L798.5 782.1L795.1 779.7L794.2 779.1L793.1 778.5L791.8 777.9L790.6 777.5L789.7 777.4L788.5 777.3L787.6 777.4L786.6 777.5L785.6 777.8L784.3 778.4L783.3 779L782.4 779.6L779.6 781.9L778.1 783L777.8 783.3L776.7 783.8L775.2 784.3L773 784.6L770.7 784.8L769.4 784.6L768.7 784.5L768 784.6L766.7 785L762.2 785.1L746.7 785.5L738.2 785.5L737.4 785.7L736.4 786L736 786.1L734.2 785.6L733.6 785.6L732.5 785.9L731.9 785.7L731.1 785.6L723.3 785.5L720.7 785.4L719.1 785.2L718.3 785.1L718 784.8L717.6 784.1L717.2 783.1L716.6 781.5L715.9 779.3L714.6 774.1L712.5 765.1L712.2 764.2L711.7 763.1L711.4 762.6L711 762.2L710.4 761.9L709.9 761.7L704.7 760.9L704.1 760.8L703.5 761L703 761.2L702.5 761.6L702.1 762.1L701.7 762.9L701.5 763.5L700.8 766.3L698.7 778.9L698 781.8L697.4 783.7L694.9 783.7L693.1 783.9L692.1 784.2L687.9 785.5L686.9 785.4L686.1 785.5L685.4 785.7L684.5 786.1L684.1 786.3L682.9 786.4L679.9 786.5L679.5 786.5L677.9 786L676.6 785.9L675.7 786.1L674.7 786.4L674.3 786.5L669.4 786.5L668.1 786.2L667.5 786.1L666.7 786.1L666.1 786.2L664.7 786.5L659.9 786.5L659 786.7L658 787L657.6 787.1L657.1 787.1L656.6 787L655.6 786.7L654.8 786.5L648.6 786.5L647.5 786.4L631 786.3L629.2 786.5L626.1 786.5L624.1 786.1L622.6 786.1L622 786.2L620.7 786.5L601 786.4L600.3 786.5L599.3 786.8L598.2 786.8L596.8 786.4L595.8 786.2L594.8 785.9L594.3 785.8L593.7 785.8L593.1 785.9L592.2 786.2L591.8 786.3L590.3 786.3L588.6 786.1L584.4 786L584 785.9L582.9 785.5L582 785.3L581.1 785.3L579.3 785.9L577.6 785.8L577.2 785.7L576.2 785.3L575.4 785.1L574.3 785L573.5 785.1L572.7 785.3L572.4 785.3L570.7 784.8L566.7 783.1L565.5 782.7L564.1 782.4L562.4 782.2L560.8 782.4L559.4 782.7L558.1 783.1L554.1 784.8L553.1 785.1L551.6 785.4L549.2 785.7L546.5 785.8L544.4 785.8L543 785.7L541.2 785.9L536.9 785.9L534.8 785.8L532.5 786L521.8 786.1L520.7 786L492.7 786.1L491.3 785.9L489.4 786.1L487.1 786L477.4 786.1L437.6 786.2L435.9 786L433.4 786L430.7 786.3L425 786.4L423.3 786.2L421.6 786.2L419.8 786.4L417.3 786.4L416.3 786.5L414.9 786.4L368.9 786.5L367.3 786.4L365.5 786.4L363.9 786.5L345.3 786.6L343.7 786.8L342.4 786.9L340.7 786.6L333.2 786.7L331.6 786.5L330.9 786.6L329.7 786.7L324.9 786.7L323.5 786.9L322.6 786.9L321.2 786.7L318.5 786.7L295.3 786.9L293.8 786.7L291.3 786.7L289.8 786.9L286 786.9L284.8 786.8L281.5 786.8L279.8 786.7L277.3 786.7L275.7 786.9L268.2 786.9L266.5 786.7L265.4 786.7L263.4 786.7L261.7 786.9L259.1 786.9L257.8 786.7L257.1 786.7L255.3 786.9L198.2 787.2L196.5 786.9L194.1 786.9L192.4 787.2L189 787.2Z"/>
<path fill="#ff00ff" fill-rule="evenodd" shape-rendering="crispEdges" d="M189 596.9L200.8 596.9L202 596.8L205.7 596.7L207.4 596.9L222.1 596.9L223.4 597L233.7 597L235 597.1L235.7 597.2L237.4 597L244.1 596.9L245.8 596.7L246.5 596.7L248 596.9L262.4 596.9L263.5 596.9L272.9 596.9L274 596.8L280.6 596.8L282.1 596.6L283.6 596.8L295.3 596.8L296.8 596.6L298.3 596.8L306.5 596.8L308.2 596.9L312 597L313.7 596.7L316.9 596.7L318.6 596.5L320.1 596.5L322 596.6L323.5 596.6L324.7 596.8L325.6 596.9L327.5 596.7L335.4 596.7L336.6 596.8L338.1 596.9L338.9 596.9L340.1 596.7L341.4 596.7L342.5 596.6L343.9 596.7L387.6 596.6L389.7 596.4L391.5 596.6L393.4 596.6L394.2 596.6L414.6 596.6L415.9 596.7L437.3 596.7L438.8 596.5L440.2 596.5L441.9 596.7L459.8 596.6L461.3 596.5L462.7 596.5L464.3 596.6L522.8 596.5L524.5 596.8L526.9 596.7L528.6 596.5L533.2 596.5L534.9 596.3L536.1 596.3L537.8 596.5L543.1 596.5L544.2 596.4L557.1 596.4L558.3 596.3L560 596.3L573.2 596.4L574.8 596.6L577.8 596.6L578.2 596.7L579.1 597L579.9 597.1L580.7 597L581.6 596.7L582 596.6L584.8 596.7L585.5 596.6L587.9 595.9L589.1 596.2L590.1 596.3L591.1 596.6L591.8 596.7L594.1 596.7L595.8 596.5L603.6 596.6L604.5 596.4L606.3 595.7L606.6 595.7L606.9 595.8L607.3 596L607.9 596.2L609.3 596.5L610 596.6L612.7 596.6L613.6 596.5L614.6 596.1L615.3 596L615.6 596.1L616.3 596.4L617 596.6L618 596.7L633.9 596.9L635.3 597.2L635.9 597.3L636.6 597.2L637.9 596.9L642.9 596.9L643.6 596.8L644.3 596.6L645 596.8L645.7 597L646.8 597L658 597.1L661.6 597.1L667.3 596.9L674.7 596.5L675.5 596.3L676.2 596L676.8 596.1L677.8 596.2L686.3 595.6L697.5 595.1L699.8 594.9L701.5 594.7L702.6 594.4L704 593.9L705.4 593.1L706.4 592.2L707.2 591.4L707.9 590.2L708.6 588.8L709.1 587.6L709.8 589.1L710.5 590.2L711.6 591.7L712.5 592.5L713.1 593.1L714 593.6L715.3 594.2L716.1 594.4L717.3 594.7L719.5 594.9L720 594.9L721.5 594.4L721.9 594.3L722.3 594.4L723.3 594.8L724.2 595L724.7 595L726.1 594.8L728.4 595.4L729.1 595.5L730.6 595.5L732.1 595.1L739.5 595L740.4 594.9L741.4 594.5L742.4 594.8L743.2 595L747.8 594.9L748.8 594.7L749.7 594.3L750.2 594.3L751 594.4L752 594.8L752.9 595L769.6 595L770.4 594.9L771.4 594.5L771.8 594.5L772.2 594.5L773.2 594.8L774 595L775.4 594.9L775.9 595L776.9 595.3L777.6 595.4L778.3 595.3L780.9 594.6L782.3 593.9L785.2 592.9L787.9 591.7L790.7 590.1L791.7 589.6L792.1 589.7L792.9 590.1L796.4 592.1L798.9 593.1L800 593.5L803.3 594.6L805 594.8L807.4 595.1L809.7 595.2L818.9 595.4L826.3 595.4L827.1 595.3L828.2 594.9L829.2 594.8L829.6 594.9L830.6 595.2L831.4 595.3L834.3 595.3L836.1 595.1L844.4 594.8L850.8 594.5L855.1 594.2L858.1 593.9L861.3 593.4L865.3 592.5L867.3 591.8L869.2 590.8L870.2 590.1L871.3 589.3L872.1 588.6L873 587.5L874.4 585.6L875.4 583.7L876.2 581.7L876.9 579.4L877.7 576L878.4 571.5L878.9 567.7L880 574.1L880.7 577.4L881.5 580.2L882.3 582.5L883.2 584.4L884.1 586.1L885.1 587.5L886.2 588.6L887.7 589.9L889.4 591L891.3 591.8L892.3 592.1L893.6 592L894.7 592.6L895.4 592.8L897.3 593.2L899.1 593.4L900.6 593.7L905.6 594.1L912.7 594.3L919.8 594.3L931 594.2L932.7 594.3L938.9 594.1L944 593.7L947.9 593.3L949.5 593L951.2 592.7L952.8 592.2L953.7 591.9L954.9 591.2L956.1 590.4L957.3 589.4L957.9 588.8L958.6 587.9L959.2 587.1L959.8 585.8L960.8 583.4L961.6 580.3L962.2 577.7L962.7 579.8L963.4 582L964.4 584.6L965.2 586L966.1 587.5L966.6 588.1L967.7 589.3L969.4 590.6L970.4 591.2L971.4 591.7L972.4 592L974.2 592.5L975.9 592.7L978.2 593L982.6 593.2L988.4 593.3L992.3 593.4L994.2 593L998.2 593L1027.3 593.3L1028.3 593.4L1047.4 593.5L1047.9 593.6L1048.9 593.9L1049.7 594.1L1050.2 594.1L1051.1 593.9L1052.1 593.6L1052.5 593.5L1060.4 593.6L1061.5 593.5L1067 593.5L1067.9 593.4L1068.9 593L1069.3 593L1069.9 593L1070.3 593L1071.3 593.4L1072.1 593.5L1076.9 593.6L1077.7 593.4L1078.7 593.1L1079 593L1079.4 593.1L1080.4 593.4L1082.1 593.6L1083.1 594.1L1084.1 594.2L1085.2 594.2L1086.2 594.1L1087.2 593.6L1089.4 593.1L1090.5 593.3L1091.7 593.6L1092.4 593.7L1094.4 593.7L1095.2 593.5L1096.2 593.2L1097.2 593.5L1098 593.7L1109.5 593.6L1115.9 593.5L1117.3 593.9L1117.8 594L1119.9 593.5L1128.6 593.3L1135.4 592.9L1136.1 592.8L1137.5 592.3L1138.8 592.2L1139.7 592.4L1140.5 592.5L1144.2 592L1144.9 591.8L1146.5 591L1147.3 590.9L1148.3 590.9L1149.1 590.8L1151.3 590L1153 589.2L1154 588.6L1155.2 587.8L1156.3 586.9L1157.3 585.9L1158.1 584.9L1159.1 583.4L1159.5 582.7L1160.3 580.7L1161.2 578.1L1161.9 574.6L1162.7 569.6L1163.4 562.9L1164.1 553.8L1164.8 541.8L1165.4 529.6L1166.9 551.1L1167.6 559.3L1168.3 566L1169 571.4L1169.8 575.6L1170.6 578.8L1171.5 581.7L1172.6 584L1173.3 585L1174.4 586.3L1174.9 586.8L1175.9 587.7L1177 588.4L1178 589L1179.9 589.8L1183.5 591.1L1184.9 591.5L1187.2 591.8L1191.2 592.3L1192.1 592.2L1193.1 591.9L1193.5 591.9L1193.9 592L1195 592.4L1195.8 592.6L1196.5 592.6L1198.4 592.4L1204.8 592.6L1205.7 592.4L1206.7 592.1L1207.7 592.5L1208.6 592.6L1227.8 592.7L1244.9 592.7L1245.7 592.6L1246.4 592.4L1247.7 592.4L1248.1 592.4L1249.1 592.8L1249.9 592.9L1255.9 592.9L1257.3 593L1270.2 593.1L1272.1 592.7L1273.9 592.7L1275.1 592.6L1276.5 592.6L1277.8 593L1278.6 593.1L1279.9 593.1L1280.7 592.9L1281.5 592.7L1282.7 592.8L1303.7 592.8L1304.5 592.7L1305.2 592.5L1305.8 592.7L1306.6 592.8L1333.3 592.8L1335.2 593.1L1338 593.1L1338.8 593L1339.8 592.7L1340.2 592.6L1340.5 592.7L1341.5 593L1342.3 593.1L1365.6 593.1L1366.8 593L1370.9 593L1371.7 592.8L1372.7 592.5L1373.1 592.4L1373.4 592.5L1374.4 592.8L1375.3 593L1406.1 592.9L1407.9 592.7L1417.8 592.6L1418.6 592.5L1419.6 592.2L1420 592.2L1421.4 592.5L1422.1 592.6L1430.3 592.6L1430.8 592.7L1431.8 593.1L1432.7 593.3L1434.5 593.2L1435.5 593.1L1436.5 592.7L1436.9 592.6L1446.8 592.6L1448.5 592.7L1451.4 592.7L1452.2 592.6L1452.9 592.4L1453.5 592.6L1454.3 592.7L1485.3 592.6L1486.5 592.5L1501.2 592.4L1501.9 592.3L1502.9 592L1503.3 592L1504.7 592.3L1505.4 592.4L1512.3 592.3L1513.1 592.2L1514.2 591.8L1514.6 591.7L1515.2 591.8L1516.5 592.3L1517.4 592.4L1524.7 592.3L1533.2 592.1L1541.3 591.7L1542 591.5L1543.1 591.1L1543.5 591L1544.6 591L1545.4 591.2L1546.3 591.3L1550.6 591.1L1553.9 591.1L1558 591.2L1563.8 591.5L1564.7 591.4L1565.6 591.1L1566 591L1566.3 591.1L1567.4 591.5L1568.2 591.7L1573.8 591.9L1574.2 592L1575.2 592.3L1576 592.5L1576.6 592.5L1577.4 592.4L1578.4 592.1L1578.8 592L1585.7 592.1L1586.7 592.3L1587.8 592.6L1588.3 592.8L1588.9 592.8L1589.5 592.6L1592.4 591.6L1593.2 591.7L1594.6 592.2L1595.2 592.2L1596.7 591.9L1597.8 592.1L1598.5 592.2L1601.9 592.2L1603.4 592L1604.8 592.2L1622.3 592.2L1623.4 592.3L1656.5 592.2L1657.3 592.1L1658.6 591.7L1659.2 591.6L1660.1 591.8L1660.8 591.9L1685.3 591.9L1686 591.8L1687 591.5L1688.3 591.4L1689.9 591.5L1690.4 591.7L1692.2 592.4L1693.1 592.5L1694.9 592.5L1695.9 592.4L1696.9 591.9L1697.3 591.8L1703.4 591.8L1703.8 591.9L1704.8 592.2L1705.6 592.3L1706.9 592.3L1707.7 592.2L1708.7 591.9L1709.1 591.8L1712.6 591.8L1713.9 591.6L1714.7 591.8L1715.4 591.9L1722.3 591.9L1722.7 591.9L1723.7 592.3L1724.5 592.4L1725.8 592.4L1726.6 592.3L1727.6 591.9L1728 591.9L1737 591.8L1738 591.9L1739.1 591.9L1739.9 591.8L1740.6 591.6L1741.2 591.8L1742 591.9L1772.8 591.9L1774.2 591.6L1775.5 591.9L1778.9 591.9L1779.8 591.7L1780.8 591.3L1781.8 591.7L1782.7 591.9L1791.2 591.9L1792.9 592.1L1797 592.1L1797 582.3L1793.5 582.3L1791.8 582.1L1783.4 582.1L1782.9 582L1781.9 581.6L1781 581.4L1780.6 581.4L1779.7 581.6L1778.7 582L1778.2 582.1L1776.2 582.1L1774.8 581.7L1774.1 581.7L1773.5 581.7L1772.1 582.1L1742.7 582.1L1742.3 582.1L1740.8 581.6L1740.3 581.6L1738.4 582.1L1737.3 582L1727.3 582.1L1726.5 582.2L1725.5 582.5L1725.1 582.6L1724.8 582.6L1723.8 582.2L1723 582.1L1716 582.1L1714.6 581.7L1713.9 581.6L1713.3 581.7L1711.9 582L1708.4 582L1707.6 582.2L1706.6 582.5L1706.2 582.5L1705.9 582.5L1704.9 582.2L1704.1 582L1696.6 582.1L1695.6 582.2L1694.6 582.6L1694.2 582.7L1693.7 582.7L1692.6 582.2L1690.8 581.7L1690.2 581.7L1688.4 581.6L1686.6 581.6L1685.9 581.7L1684.6 582.1L1661.4 582.1L1660 581.8L1659.2 581.7L1657.5 582L1656.2 582.4L1655.9 582.4L1623.6 582.5L1622.5 582.4L1605.4 582.4L1604.1 582.1L1603.3 582L1602.6 582.1L1601.3 582.4L1599.1 582.4L1597.7 582.1L1597 582L1596.4 582L1595.1 582.2L1594.3 582L1593.4 581.8L1591.6 581.8L1590.7 582L1588.6 582.8L1587.3 582.4L1586.1 582.3L1578.3 582.2L1577.5 582.3L1576.5 582.6L1575.5 582.3L1574.7 582.1L1569.4 581.9L1568.9 581.9L1567.9 581.4L1567.1 581.3L1565.9 581.2L1565 581.3L1564.1 581.6L1563.6 581.7L1557.7 581.4L1554 581.3L1550.4 581.3L1545.9 581.5L1544.4 581.2L1543.5 581.2L1542.2 581.3L1541.5 581.5L1540.4 581.9L1540 581.9L1532.1 582.3L1524.5 582.5L1518.3 582.6L1516.8 582.1L1515.3 581.9L1513.8 581.9L1512.9 582.1L1511.9 582.5L1511.5 582.5L1506 582.6L1504.6 582.2L1503.9 582.2L1502.5 582.2L1501.8 582.3L1500.5 582.6L1486.2 582.7L1485 582.8L1455 582.9L1454.6 582.8L1453.7 582.5L1453.1 582.4L1452.6 582.4L1452 582.5L1451.1 582.9L1450.7 582.9L1449.1 582.9L1447.4 582.8L1436.2 582.8L1435.2 583L1434.2 583.4L1433.8 583.4L1433.4 583.4L1432.9 583.4L1431.9 583L1431 582.8L1422.7 582.8L1421.3 582.5L1420.6 582.4L1419.3 582.4L1418.5 582.5L1417.2 582.8L1407.2 582.9L1405.4 583.1L1375.9 583.2L1375.5 583.1L1374.5 582.7L1373.6 582.6L1372.4 582.6L1371.6 582.7L1370.6 583.1L1370.2 583.2L1366.5 583.2L1365.3 583.3L1343 583.3L1342.6 583.3L1341.6 582.9L1340.8 582.8L1339.5 582.8L1338.7 582.9L1337.7 583.3L1337.3 583.3L1335.8 583.3L1333.9 583L1307.3 583L1306.9 583L1305.9 582.7L1305.1 582.5L1304.4 582.7L1303.4 583L1303 583L1283.3 583L1282 582.8L1281.3 582.7L1280.6 582.8L1279.6 583.2L1279.2 583.3L1277.9 582.9L1277.1 582.8L1274.8 582.8L1273.6 582.9L1271.5 582.9L1269.6 583.3L1257.8 583.2L1256.4 583.1L1250.6 583.1L1250.2 583L1249.2 582.7L1248.4 582.6L1246.8 582.6L1245.2 582.9L1227.7 582.9L1209.5 582.8L1209 582.8L1208 582.4L1207.1 582.2L1206.7 582.2L1205.7 582.3L1204.8 582.7L1204.3 582.8L1198.1 582.6L1196.7 582.7L1195.6 582.3L1194.8 582.1L1193.6 582.1L1192.7 582.2L1191.8 582.4L1191.4 582.4L1188.6 582.1L1186.3 581.7L1183.4 580.7L1182.6 580.3L1181.6 579.7L1181 578.9L1180.5 577.8L1180 576.2L1179.4 573.7L1178.7 570L1178.1 564.9L1177.4 558.4L1176.7 550.3L1173.9 511L1171.8 485.2L1170.4 465L1169.7 457.4L1169.5 456.5L1169.3 455.8L1168.8 455.3L1168.3 454.9L1167.7 454.6L1167 454.6L1161.5 454.9L1160.8 455L1160.2 455.3L1159.7 455.8L1159.3 456.3L1159.1 457L1158.6 460.9L1157.8 474.4L1155.7 526.6L1155 541.3L1154.3 553.1L1153.6 562.1L1152.9 568.5L1152.3 572.9L1151.7 575.7L1151.1 577.4L1150.7 578.3L1150.3 578.9L1149.7 579.7L1149.2 580L1148.5 580.5L1147 581.2L1146.5 581.3L1145.8 581.2L1145.1 581.3L1143.9 581.6L1143.2 581.8L1142.2 582.3L1141.7 582.5L1140.1 582.7L1139.7 582.6L1138.8 582.4L1138.1 582.4L1136.1 582.6L1135.4 582.7L1134.4 583.1L1134 583.2L1127.5 583.5L1119.6 583.7L1118.8 583.9L1118.3 584.1L1117.5 583.8L1116.7 583.7L1109.5 583.8L1098.7 583.9L1098.3 583.8L1097.3 583.5L1096.5 583.3L1095.9 583.3L1095.1 583.5L1094.1 583.8L1093.7 583.9L1093 583.9L1091.1 583.4L1090 583.3L1088.8 583.3L1088.2 583.4L1087.1 583.7L1085.9 583.9L1084.9 584.3L1084.6 584.4L1084.4 584.3L1083.4 583.9L1082.4 583.8L1081.5 583.7L1080.5 583.4L1079.7 583.2L1078.4 583.2L1077.6 583.4L1076.6 583.7L1076.2 583.7L1072.8 583.7L1072.4 583.7L1071.4 583.3L1070.6 583.2L1068.6 583.2L1067.8 583.3L1066.8 583.6L1066.4 583.7L1061.3 583.7L1060.2 583.8L1051.9 583.7L1051 583.9L1050 584.2L1049 583.9L1048.2 583.7L1028.6 583.6L1027.6 583.5L998.2 583.2L993.5 583.3L991.7 583.6L985.7 583.5L979.7 583.3L977.8 583.1L976.1 582.8L975.1 582.6L974.7 582.4L974 581.7L973.7 581.2L973.2 580.3L972.7 578.9L972.1 577L971.5 574.5L970.8 571.5L970.1 567.9L969.4 563.5L968 553.3L967.4 549.1L966.9 547.6L966.5 546.9L966 546.4L965.3 546.1L964.6 546L959 545.9L958.3 545.9L957.7 546.2L957.2 546.5L956.8 547L956.5 547.6L956.3 548.3L955.5 552.9L953.4 570.2L952.8 574.7L952.1 577.9L951.5 580.2L951.1 581.4L950.7 582L950.5 582.4L949.8 582.8L948.7 583.2L946.4 583.6L943.2 584L939.8 584.2L933.1 584.5L931.4 584.3L917.7 584.6L908.8 584.4L905.4 584.2L902 584L900.7 583.7L898.2 583.4L897.8 583.2L897 582.7L896.4 582.5L895.8 582.4L894.5 582.5L893.7 582.1L892.8 581.4L892.4 580.9L892 580.1L891.4 578.9L890.9 577.3L890.3 575.1L889.6 572.1L888.9 568.3L888.3 563.6L887.6 558.3L886.9 552.2L886.2 545.3L884.8 528.9L884.1 522L883.7 520.2L883.5 519.6L883.1 519.1L882.5 518.7L881.9 518.4L881.3 518.3L875.7 518.3L875 518.4L874.4 518.7L873.9 519.1L873.5 519.6L873.3 520.3L872.9 521.8L872.2 529.6L870.8 549.2L870.1 557.7L869.4 564.6L868.7 570L868.1 573.9L867.4 576.7L866.9 578.6L866.4 579.7L866 580.6L865.2 581.5L864.4 582.2L863.6 582.7L862.8 583L859.4 583.8L856.3 584.3L852.9 584.6L849.5 584.8L843.3 585.1L835.2 585.3L833.4 585.5L831.9 585.5L831.5 585.5L830.5 585.2L829.7 585L827.7 585.1L827 585.2L825.9 585.5L825.6 585.6L817.7 585.6L812.2 585.5L808.2 585.3L806 585.1L802.6 584.1L800.6 583.2L797.4 581.4L796.4 580.9L795.3 580.4L794.2 580.1L793.3 579.9L792.2 579.8L791.5 579.8L789.8 580L788.7 580.3L787.9 580.6L786.5 581.2L783.5 583L781.5 583.8L779.8 584.3L779.1 584.6L778 585.3L777.2 585.5L776.5 585.2L775.6 585.1L774.5 585.1L774.1 585.1L773.1 584.8L772.3 584.7L771.1 584.7L770.3 584.8L769.3 585.2L768.9 585.2L753.8 585.2L753.3 585.1L752.3 584.7L751.4 584.5L749.5 584.5L748.6 584.6L747.6 585L747.1 585.1L743.7 585.2L743.3 585.1L742.3 584.8L741.5 584.7L741 584.7L740.1 584.8L739.1 585.2L738.7 585.3L731.8 585.3L731.1 585.4L730.2 585.7L727.7 584.8L726.9 584.7L726.3 584.7L725.5 584.8L724.6 585.1L723.6 584.7L722.7 584.6L721.6 584.5L720.7 584.7L719.7 585L719.3 585.1L718.8 585L718.7 584.9L718.3 584.1L717.8 583.1L717.2 581.7L715.9 577.9L713.9 570.6L713.3 569.3L713 568.7L712.4 568.3L711.8 568L711.1 567.9L705.7 567.7L705 567.8L704.4 568.1L703.8 568.6L703.4 569.2L703 570L702.2 573.2L700.8 580.5L700.2 583.2L699.7 584.8L699.5 585.1L698.2 585.3L696.2 585.4L685.7 585.8L677.6 586.4L677.2 586.4L676.3 586.1L675.8 586L675.2 586L674.6 586.2L673.7 586.6L673.3 586.7L669.6 586.9L664.1 587.2L660.1 587.3L647.1 587.2L646.2 587.1L645.1 586.8L644.4 586.7L643.6 586.8L642.7 587.1L642.3 587.1L637.4 587.1L636 587.3L634.6 587.1L618.9 587L618.4 586.9L617.2 586.4L616.3 586.2L614.4 586.2L613.5 586.4L612.5 586.7L612.1 586.8L610.7 586.8L609.4 586.5L608.7 586.4L607.3 586.4L606.4 586.5L605.5 586.2L604.9 586.2L604.3 586.4L603.4 586.7L603 586.7L595.2 586.7L593.5 586.9L592.2 586.9L591.2 586.6L590.5 586.5L588.4 586.4L587.3 586.6L586.3 586.4L585.6 586.5L584.2 586.8L581.4 586.8L580.6 587L580 587.1L579.3 586.9L578.5 586.8L575.5 586.8L573.9 586.6L560 586.5L558 586.5L556.8 586.6L544 586.6L542.9 586.7L538.4 586.7L536.7 586.5L534.3 586.5L532.6 586.7L528 586.7L526.3 586.9L524.9 586.9L523.4 586.7L464.8 586.8L463.2 586.7L460.7 586.7L459.2 586.8L442.5 586.9L440.8 586.6L438.4 586.7L436.7 586.9L416.3 586.9L415 586.8L394.7 586.8L393.3 586.7L391.5 586.8L390.4 586.6L388.7 586.6L386.9 586.8L375.1 586.9L344.5 586.9L343.2 586.7L342.5 586.7L341 586.9L339.4 586.9L338.2 587.1L335.9 586.9L327 586.9L325.6 587L324 586.8L321.6 586.8L320.4 586.7L318 586.7L316.3 586.9L313.1 586.9L311.4 587.2L308.8 587.1L307.1 587L298.9 587L297.4 586.8L296 586.8L294.7 587L284.2 587L282.9 586.8L281.5 586.8L280 587L273.8 587L272.7 587.1L263.3 587.1L262.2 587.1L248.6 587.1L246.9 586.9L245.2 586.9L243.5 587.2L236.8 587.2L235.7 587.3L234.3 587.2L223.8 587.2L222.5 587.1L208 587.1L206.3 586.9L203.9 586.9L202.8 587L201.7 586.9L200.3 587.1L189 587.1Z"/>
<path fill="#008000" fill-rule="evenodd" shape-rendering="crispEdges" d="M189 303.1L190.6 303L191.3 302.9L192.7 303.1L209.1 303L211.3 302.8L213 303L239.5 303L240.9 303.1L251.2 303.1L252.3 303.1L267.3 303.1L269 303.3L271.4 303.3L274.4 302.9L275.9 303.1L278.7 303.1L337.9 303.1L338.8 303.1L347.1 303.1L347.9 303.1L349.4 303.1L376.5 303.1L377.7 303L400 303L401.6 303.1L403.1 302.9L404.5 302.9L406.2 303.1L424.8 303.1L425.9 303.1L435.9 303.1L437.5 302.9L439.1 303.1L445.8 303.1L447.3 302.9L448.6 303L449.9 303.1L451.6 302.9L452.8 302.9L454.5 303.1L476.6 303.1L477.7 303L489.1 303L490.2 302.9L492 303L493.6 302.8L495 303L497.6 303L499.3 303.2L501.3 303L524.2 303L525.8 302.9L527.2 303L542.2 303L543.3 303.1L556.9 303.1L558 303.1L564.6 303.1L565.2 303.1L566.5 302.7L568.1 303.1L568.7 303.2L572.9 303.2L573.7 303.1L574.7 302.8L575.7 302.7L576.1 302.8L577.1 303.1L577.9 303.2L584.1 303.2L584.9 303.1L585.9 302.8L586.9 303.1L587.7 303.2L599 303.2L600.7 303L618 303L619.4 302.8L620.6 302.8L622 303.1L623.2 303.2L624.1 303.1L625.1 302.7L626.1 303.1L627 303.2L628.8 303.2L629.8 303L631.9 302.2L633.1 302.7L634 302.8L663.2 302.7L664.4 302.8L672.1 302.8L675.9 302.5L679.7 302.1L688.1 300.7L689.1 300.5L691.9 300.1L693.8 299.6L694.7 299.5L695.6 299.8L696.2 299.8L700.9 299.7L702 299.5L704.7 298.7L706.7 298.2L707.1 298L707.7 297.6L708.9 296.4L709.9 294.9L710.7 293.3L711.3 291.6L712.3 293.8L713 294.8L713.6 295.7L714.5 296.7L715.5 297.6L716 297.9L716.6 298L718.1 298.3L719.1 298.8L721.4 299.1L722.5 299.6L723.3 299.8L726.3 299.9L728.2 300.2L741 300.3L742.3 300.7L743 300.8L743.7 300.8L744.4 300.7L745.8 300.3L748.5 300.3L749.4 300.2L750.4 299.8L751.4 300.2L752.3 300.3L754.8 300.3L755.7 300.2L756.7 299.8L757.7 300.2L758.6 300.3L760.5 300.3L761.8 300.1L764.1 300.7L764.8 300.8L766.2 300.8L766.9 300.7L768.3 300.3L776.4 300.2L781 300L782.9 299.7L785 299.2L786.3 298.6L787 298.3L788 297.6L789.1 296.6L790.7 295L791.5 293.8L793.3 291.1L794.7 293.1L795.7 294.4L797.3 296.1L798.1 296.8L799.6 297.7L801 298.5L804 299.6L805.1 299.8L808.3 300.1L814.4 300.3L815.8 300.7L816.5 300.8L817.2 300.8L817.9 300.7L818.9 300.4L819.3 300.4L839.2 300.3L840.7 300.1L855.1 299.9L856 299.7L857 299.3L858 299.6L858.9 299.7L864.3 299.3L867.9 298.8L868.5 298.6L869.9 298L871.1 297.6L872 297.2L873.2 296.9L874 296.5L875 295.7L875.9 294.7L876.5 293.9L877.1 292.9L877.5 291.9L878.4 289.6L879.1 286.5L879.9 281.4L880.6 275.1L881 270.6L881.3 273.9L882 279.1L882.8 283.7L883.5 287L884.3 289.6L885.1 291.8L885.5 292.5L886.2 293.8L887.4 295.3L888.5 296.4L889.6 297.2L890.8 297.8L892.6 298.4L894.4 298.8L896.5 299.1L897.2 299L898.6 298.8L899.2 298.9L900.3 299.3L901 299.4L906.2 299.6L908 299.4L927.5 299.4L940.2 299.2L946 299L950.4 298.7L954 298.2L954.9 298L956 297.6L956.7 297.3L957.9 296.7L959 295.8L959.7 295.1L960.5 294.1L961.1 293L961.5 292.2L962.2 290.4L963.1 286.7L963.8 281.8L964.6 274.9L964.9 271.5L965.4 275.3L966 280.1L966.8 284.4L967.6 287.8L968.3 290.1L969.2 292.3L970.1 293.9L970.7 294.7L971.6 295.7L972.8 296.7L973.8 297.3L975.1 297.8L976.2 298.1L977.8 298.5L979.5 298.7L982.3 298.9L984 298.8L989.7 299L997.2 299.1L998.6 298.9L1000.7 299.3L1001.3 299.4L1010.8 299.4L1012.3 299.6L1048.3 299.7L1050.2 299.3L1061.5 299.4L1062.2 299.3L1063.3 299L1064.4 299.3L1065 299.4L1088.8 299.3L1089.6 299.1L1090.6 298.8L1091.7 298.7L1092.1 298.8L1093.1 299.1L1093.8 299.2L1094.9 299.2L1096.5 299.5L1101.6 299.4L1102.2 299.3L1103.2 299.1L1104.5 299L1106.4 299.3L1118.4 299L1119.2 298.8L1120.2 298.4L1121.3 298.3L1121.7 298.4L1122.7 298.6L1123.5 298.7L1131 298.2L1136 297.5L1140 296.7L1142.4 296.1L1144.7 295.4L1146.4 294.7L1148.2 293.8L1149.9 292.9L1151.6 291.6L1152.8 290.7L1154.4 289L1155.5 287.7L1156.3 286.4L1157 285.3L1157.9 283.7L1158.8 281.8L1159.6 279.8L1160.4 277.4L1161.1 274.6L1161.9 271L1162.6 266.9L1163.4 261.8L1164.1 255.2L1164.8 246.6L1165.5 235.6L1166.2 221.4L1166.9 203.1L1168.3 229.8L1169 241L1169.7 250.4L1170.4 257.9L1171.1 264L1171.9 269.1L1172.6 273.1L1173.4 276.3L1174.2 279L1174.9 281.1L1175.7 283L1176.7 284.9L1177.6 286.4L1178.5 287.7L1180.1 289.7L1181.2 290.8L1182.8 292.1L1183.9 292.9L1185.7 293.9L1187.3 294.7L1189.1 295.4L1190.7 295.9L1193 296.6L1196.3 297.2L1197.5 297.6L1199.1 297.8L1200.2 297.9L1201.3 297.7L1202.5 298.2L1203.1 298.3L1208.6 298.7L1215 299.1L1221.6 299.3L1222.4 299.2L1223.4 298.9L1223.8 298.9L1224.2 299L1225.2 299.3L1226 299.5L1227.3 299.4L1228.4 299.2L1230.1 299.5L1232.9 299.5L1233.8 299.4L1234.8 299L1235.1 298.9L1235.4 299L1236.4 299.4L1237.3 299.6L1242.1 299.6L1242.8 299.5L1243.9 299.2L1244.9 299.5L1245.6 299.7L1247.4 299.7L1248.4 300L1249.1 300.1L1251.2 300.1L1251.9 300L1253.4 299.6L1253.7 299.6L1272.9 299.6L1273.7 299.5L1274.7 299.1L1275.7 299.5L1276.5 299.6L1284.4 299.6L1285.8 299.8L1287 299.8L1287.6 299.7L1288.7 299.4L1289.1 299.4L1290.5 299.7L1291.1 299.8L1304.5 299.8L1305.6 299.6L1306.5 299.9L1307.4 300.1L1309.2 300.1L1310.1 299.9L1311.1 299.5L1311.6 299.4L1323.3 299.4L1324.1 299.3L1325.2 298.9L1325.7 299L1326.8 299.4L1327.6 299.5L1337.2 299.5L1338.1 299.3L1339.1 298.9L1339.5 298.9L1339.8 298.9L1340.8 299.3L1341.7 299.5L1357 299.4L1357.6 299.3L1358.7 299.1L1359.8 299.3L1360.4 299.4L1366.4 299.4L1368 299.6L1394 299.5L1395.5 299.2L1396.9 299.5L1405.2 299.5L1406 299.4L1406.7 299.2L1407.3 299.4L1408.1 299.5L1433.9 299.4L1434.3 299.5L1435.3 299.9L1436.3 300L1437.5 299.9L1438.2 299.8L1439.2 299.4L1439.7 299.3L1455.7 299.3L1456.3 299.2L1457.4 298.9L1458.5 299.2L1459.1 299.3L1460.7 299.2L1462.6 299L1464.4 298.2L1464.7 298.2L1465.1 298.3L1466.1 298.6L1468.2 299L1474.5 299L1475.3 298.8L1476.3 298.5L1477.3 298.8L1478.2 299L1481.5 299L1482.3 298.8L1483.3 298.5L1483.7 298.4L1484 298.5L1485 298.8L1485.8 298.9L1498.6 298.9L1500.3 299.1L1501.9 299.1L1502.5 299L1503.6 298.7L1504.7 298.7L1506.1 299L1506.7 299.1L1512.5 299.1L1514.2 298.9L1515.9 298.9L1517.3 298.7L1518.6 298.9L1525.8 298.9L1527.1 299.2L1527.8 299.3L1528.4 299.2L1529.8 298.9L1538.3 298.8L1538.9 298.8L1540.1 298.5L1541.2 298.7L1541.8 298.8L1547.1 298.6L1549 298.8L1552.4 298.5L1556.3 298.1L1557.7 297.7L1558.9 297.8L1560.8 297.7L1562.5 297.8L1564.3 297.6L1567 297.9L1567.4 298L1568.4 298.5L1569 298.7L1569.6 298.8L1570.2 298.7L1571 298.4L1571.5 298.4L1575.7 298.6L1576.6 298.5L1577.3 298.3L1578 298.5L1578.8 298.7L1580.2 298.7L1581.6 298.5L1583 298.8L1590.2 298.8L1592 299.1L1606.8 299.1L1608 299.2L1625.7 299.2L1626.5 299.1L1627.2 298.9L1627.8 299.1L1628.6 299.2L1637.6 299.2L1638.4 299L1640.2 298.4L1641.1 298.7L1641.9 298.9L1643.9 298.9L1644.7 298.7L1645.7 298.4L1646.7 298.7L1647.5 298.9L1648.9 298.9L1650.3 299.2L1650.9 299.3L1653.1 299.3L1653.7 299.2L1655.1 298.9L1658.2 298.9L1659.9 299.1L1664.3 299.1L1664.9 299L1666 298.7L1667.1 299L1667.7 299.1L1690.1 299.1L1691.3 299.1L1701.3 299.1L1702.1 299L1703.1 298.7L1704.1 299L1704.9 299.1L1720.8 299.1L1721.7 299L1722.8 298.6L1723.7 298.9L1724.6 299.1L1729.3 299.1L1730 299L1731.1 298.7L1732.2 299L1732.9 299.1L1746.9 299.1L1748.3 299.4L1748.9 299.5L1750.4 299.5L1751 299.4L1752.4 299.1L1762.3 299.1L1762.9 299L1764.3 298.7L1764.8 298.7L1765.8 299L1766.4 299.1L1789.8 299.1L1791.2 298.9L1796.1 298.9L1796.8 298.8L1797 298.7L1797 288.9L1796.3 289.1L1790.7 289.1L1789.3 289.3L1767.1 289.3L1765.7 289L1765.1 288.9L1763.6 288.9L1763 289L1761.6 289.3L1751.7 289.3L1751.1 289.4L1750 289.7L1749.6 289.7L1748.2 289.4L1747.6 289.3L1733.5 289.3L1732.1 288.9L1731.4 288.8L1730.8 288.8L1730.1 288.9L1728.7 289.3L1725.1 289.3L1724.7 289.2L1723.6 288.8L1723.1 288.7L1722.6 288.7L1721.6 288.9L1720.6 289.3L1720.1 289.3L1705.6 289.3L1705.2 289.3L1704.2 288.9L1703.4 288.8L1702.8 288.8L1702 288.9L1701 289.3L1700.6 289.3L1691.6 289.3L1690.4 289.3L1668.4 289.3L1667 288.9L1666.4 288.9L1665.6 288.9L1665 289L1663.6 289.3L1660.5 289.3L1658.8 289.1L1654.4 289.1L1653.8 289.1L1652.7 289.4L1651.6 289.5L1650.2 289.1L1649.6 289.1L1648.2 289.1L1647.8 289L1646.8 288.7L1646 288.5L1645.4 288.5L1644.6 288.7L1643.6 289L1643.2 289.1L1642.6 289.1L1642.2 289L1641.2 288.7L1640.4 288.5L1639.7 288.5L1639.1 288.6L1637.6 288.9L1636.3 289.4L1629.3 289.4L1628.9 289.3L1627.9 289L1627.1 288.9L1626.4 289L1625.4 289.3L1625 289.4L1608.3 289.4L1607.1 289.3L1592.7 289.3L1590.9 289L1583.7 289L1582.4 288.7L1581.7 288.6L1581 288.6L1579.8 288.9L1579.4 288.8L1578.5 288.5L1577.9 288.3L1577.3 288.3L1576.7 288.4L1575.9 288.7L1575.4 288.8L1571.7 288.5L1570.8 288.7L1570.3 288.8L1569.6 288.5L1568.8 288.3L1564.6 287.8L1564 287.8L1562.6 288L1560.8 287.9L1558.7 288L1557.4 287.8L1556.7 287.7L1556 287.9L1554.5 288.4L1549 289L1547.2 288.8L1542.3 289L1540.9 288.7L1540.3 288.7L1539.5 288.7L1537.6 289L1529.1 289.1L1527.7 289.3L1526.4 289.1L1519.2 289.1L1517.9 288.8L1517.2 288.7L1516.6 288.8L1515.2 289.1L1513.6 289.1L1511.9 289.3L1507.4 289.3L1506 289L1505.4 288.9L1503.2 288.9L1502.6 289L1501.5 289.3L1500.9 289.3L1499.2 289.1L1486.5 289.1L1486.1 289.1L1485.1 288.7L1484.3 288.6L1483 288.6L1482.2 288.7L1481.2 289.1L1480.8 289.2L1478.8 289.2L1478.4 289.1L1477.4 288.7L1476.5 288.6L1476 288.6L1475.2 288.7L1474.2 289.1L1473.7 289.2L1468.8 289.2L1467.5 288.9L1466.9 288.8L1465.4 288.8L1464.6 288.9L1463.6 288.7L1463 288.7L1462.5 288.8L1461.1 289.3L1460.1 289.4L1459.4 289.4L1458.4 289.2L1457.8 289.1L1457 289.1L1456.4 289.2L1455 289.5L1438.9 289.5L1438.1 289.7L1436.7 290.1L1436.3 290.1L1435.4 289.8L1434.5 289.6L1408.8 289.7L1408.4 289.6L1407.4 289.3L1406.6 289.2L1405.8 289.3L1404.9 289.6L1404.5 289.7L1397.5 289.7L1396.2 289.3L1395.4 289.2L1394.7 289.3L1393.4 289.7L1368.5 289.8L1366.9 289.6L1361.1 289.6L1359.7 289.3L1359.1 289.2L1358.3 289.2L1357.7 289.3L1356.3 289.6L1342.4 289.7L1341.9 289.6L1340.9 289.2L1340 289L1338.9 289L1338 289.2L1337 289.6L1336.5 289.7L1328.3 289.7L1327.9 289.6L1326.9 289.3L1326.2 289.2L1324.8 289.1L1324 289.2L1323 289.6L1322.6 289.6L1310.9 289.6L1310 289.8L1309 290.2L1308.5 290.3L1308.1 290.3L1307.6 290.2L1306.6 289.8L1305.9 289.7L1305.2 289.7L1303.9 290L1291.8 290L1290.4 289.7L1289.8 289.6L1288.3 289.6L1287.7 289.7L1286.5 290L1285 289.8L1277.2 289.8L1276.8 289.7L1275.8 289.4L1275 289.2L1274.4 289.2L1273.6 289.4L1272.6 289.7L1272.2 289.8L1253.1 289.8L1251.7 289.9L1250.7 290.2L1250.3 290.3L1249.5 290.3L1248.5 290L1247.8 289.9L1246.4 289.9L1246 289.8L1245 289.5L1244.3 289.4L1243.6 289.4L1242.9 289.5L1241.5 289.8L1238.2 289.8L1237.7 289.7L1236.7 289.3L1235.8 289.1L1234.6 289.1L1233.7 289.3L1232.7 289.6L1232.2 289.7L1231.4 289.7L1230.6 289.7L1229.1 289.4L1228.2 289.4L1226.6 289.6L1225.5 289.3L1224.7 289.1L1223.5 289.1L1222.6 289.2L1221.7 289.5L1221.3 289.5L1214 289.2L1208.5 288.9L1204.8 288.6L1203.4 288.1L1202.8 288L1202.1 287.9L1201.4 287.9L1200.5 288.1L1199.8 288L1198.4 287.7L1195.3 287L1193 286.4L1191.3 285.7L1190.2 285.2L1189.2 284.6L1188.2 283.9L1187.3 283L1186.7 282.4L1185.8 281.1L1185.2 280.1L1184.6 279L1184.1 277.6L1183.5 275.9L1182.8 273.7L1182.2 270.9L1181.5 267.4L1180.9 262.8L1180.2 256.9L1179.5 249.6L1178.8 240.4L1178.1 229.2L1177.4 216.3L1176 188.9L1174.6 163.8L1173.9 149.2L1173.2 131L1171.8 90.4L1171 80.1L1170.9 79.5L1170.7 79L1170.3 78.5L1169.8 78.2L1169.2 77.9L1168.6 77.8L1163.4 77.7L1162.8 77.7L1162.2 77.9L1161.7 78.3L1161.3 78.7L1161 79.3L1160.8 79.9L1160.6 81.8L1159.9 99.3L1157.8 180.7L1157.1 203L1156.4 220.9L1155.7 235L1155 245.9L1154.3 254.2L1153.6 260.5L1153 265.4L1152.3 269.1L1151.6 272.2L1151 274.5L1150.4 276.4L1149.8 278L1148.7 280.2L1148.1 281.1L1147.1 282.5L1146.1 283.5L1144.7 284.6L1143.6 285.2L1142 285.9L1140.3 286.5L1138.4 287L1134.2 287.9L1133.3 288L1129.3 288.5L1124.6 288.8L1123.6 288.9L1123.2 288.9L1122.2 288.6L1121.4 288.5L1119.5 288.6L1118.7 288.8L1117.7 289.1L1117.3 289.2L1106.8 289.5L1104.9 289.2L1102.7 289.2L1100.8 289.6L1097 289.7L1095.7 289.5L1094 289.4L1093 289.1L1092.3 288.9L1090.3 289L1089.5 289.1L1088.5 289.4L1088.1 289.5L1065.7 289.6L1064.3 289.2L1063.7 289.1L1063 289.1L1062.3 289.2L1060.9 289.6L1049.6 289.5L1047.7 289.9L1012.9 289.8L1011.4 289.7L1002 289.6L1000.4 289.2L998.7 289L997.9 289L996.6 289.3L989.2 289.2L983.9 289L982.3 289.1L979.9 288.9L978.5 288.6L978.3 288.5L978.1 288.2L977.6 287.1L977 285.1L976.4 282.3L975.7 278.6L975.1 274L974.4 268.4L973.7 261.9L973 254.5L970.9 228.4L970.2 221L969.5 217.5L969.3 216.9L968.9 216.4L968.5 215.9L967.9 215.7L967.3 215.5L961.8 214.9L961.1 214.9L960.4 215.1L959.9 215.5L959.4 216.1L959.1 216.7L959 217.2L958.3 222.4L957.6 232L955.5 265.4L954.8 274L954.1 280.4L953.5 284.7L952.9 287.2L952.4 288.5L950 288.9L948.1 289.1L944.8 289.3L940.7 289.4L927.5 289.6L914.2 289.6L907.5 289.6L905.8 289.8L902.2 289.6L900.8 289.2L900.2 289.1L898.9 289L898.2 289L897.3 289.2L896.9 289.2L895.1 288.9L894.7 288.7L894.4 288.4L894.1 287.8L893.6 286.6L893 284.6L892.4 281.7L891.7 277.8L891.1 272.7L890.4 266.5L889.7 259.3L889 251.2L886.9 224.3L886.2 217.3L886 216.5L885.7 214.9L885.4 214.3L885.1 213.8L884.6 213.4L884 213.1L883.3 213L877.7 212.8L877 212.8L876.4 213.1L875.8 213.5L875.4 214.1L875.2 214.7L875 215.5L874.3 222.2L873.6 232.3L872.2 255.6L871.5 265.8L870.8 274.1L870.1 280.2L869.5 284.4L868.9 286.9L868.5 288.1L866.6 288.8L865.7 289.2L865.3 289.3L864.6 289.4L862 289.7L859.1 289.9L858.7 289.8L857.7 289.5L856.8 289.4L856.4 289.4L855.5 289.6L854.5 290L854 290.1L840.1 290.3L838.6 290.5L818.7 290.6L818 290.7L817 291L815.9 290.6L815.2 290.5L809.4 290.4L806.8 290.2L804.9 289.5L804 288.9L803.7 288.7L802.6 287.3L800.6 284.4L799.6 283.1L798.5 281.8L797.2 280.8L796.2 280.2L794.7 279.6L793.9 279.4L792.2 279.4L791.7 279.5L791.1 279.7L789.8 280.2L789 280.7L788.1 281.5L786.9 282.9L786.1 284.1L784.1 287.3L783.1 288.7L782.3 289.6L782 289.8L781 290.1L779.4 290.2L776.8 290.4L767.5 290.5L766.8 290.6L765.8 290.9L763.4 290.1L762.6 290L762 290L761.2 290.1L760.2 290.5L759.2 290.5L758.8 290.5L757.8 290.1L757 289.9L756.5 289.9L755.6 290.1L754.6 290.5L754.2 290.5L753 290.5L752.5 290.5L751.5 290.1L750.7 289.9L750.2 289.9L749.3 290.1L748.3 290.5L747.8 290.5L745.2 290.5L744.5 290.6L743.4 290.9L742.4 290.6L741.7 290.5L729 290.4L727.1 290.1L724.5 290L724.1 289.9L723.1 289.5L721 289.1L720.9 288.9L720.6 288.5L720 286.9L719.4 284.9L718.8 282.4L717.4 276.3L716.6 273.2L715.9 271.2L715.6 270.6L714.7 269.4L714.1 268.9L713.5 268.6L712.7 268.4L709.2 268.4L708.6 268.4L708.1 268.6L707.6 268.9L707.2 269.3L706.1 270.6L705.8 271.3L705.2 272.8L705 273.6L704.3 276.9L702.9 284.8L702.3 287.6L701.7 289.4L700 289.9L696.6 290L695.2 289.7L694.5 289.7L692.2 289.9L691.6 290L690.1 290.5L687.4 290.8L686.4 291.1L678.3 292.4L675.7 292.7L673.8 292.9L671.3 293L664.7 293L663.5 292.9L634.7 293L634.2 293L633.2 292.6L632.3 292.4L631 292.4L630.4 292.4L628.7 292.8L628.2 293.1L627.5 293.4L627.2 293.3L626.2 292.9L625.3 292.8L624.9 292.8L624 292.9L622.9 293.3L621.3 293L618.9 293L617.5 293.2L600.1 293.2L598.4 293.4L588.3 293.4L588 293.4L587 293.1L586.2 292.9L585.6 292.9L584.8 293.1L583.8 293.4L583.5 293.4L578.6 293.4L578.2 293.4L577.2 293L576.4 292.9L574.4 292.9L573.6 293L572.6 293.4L572.2 293.4L569.6 293.4L568 293L566.9 292.9L565.9 292.9L565.3 293L563.9 293.3L558.2 293.3L557.1 293.3L543.5 293.3L542.4 293.2L527.7 293.2L526.3 293.1L524.9 293.1L523.7 293.2L500.7 293.2L499.3 293.3L498.2 293.2L495.5 293.2L494.1 293L492.9 293L492 293.1L490.2 293L488.4 293.2L477.5 293.2L476.4 293.3L455.1 293.3L453.4 293.1L451 293.1L449.3 293.3L448.1 293.1L446.7 293.1L445.2 293.3L439.7 293.3L438.3 293.1L437 293.1L435.3 293.3L425.7 293.3L424.6 293.3L406.8 293.3L405.1 293.1L402.7 293.1L401 293.3L400.3 293.2L377.4 293.2L376.2 293.3L349.9 293.3L348.5 293.2L346.6 293.3L338.1 293.3L278.9 293.3L276.5 293.3L275 293.1L273.8 293.1L270.8 293.5L269.6 293.5L267.9 293.3L252.1 293.3L251 293.3L241.4 293.3L240 293.2L213.6 293.2L211.9 293L210.2 293L208.5 293.2L193.3 293.3L192 293.1L191.3 293L189.8 293.2L189 293.3Z"/>
<g>
<text class="sy" font-size="38.5" transform="translate(708.2 1150.3) scale(0.995 1)" x="0" y="14.51">♥</text>
<text class="sy" font-size="40.45" transform="translate(801.5 1129.5) scale(1.152 1)" x="0" y="14.6">♠</text>
<text class="sy" font-size="41.7" transform="translate(877 1126.7) scale(1.015 1)" x="0" y="15.45">♦</text>
<text class="sy" font-size="38.5" transform="translate(967.6 1022.5) scale(0.995 1)" x="0" y="14.51">♥</text>
<text class="sy" font-size="41.7" transform="translate(1167.8 814.4) scale(1.015 1)" x="0" y="15.45">♦</text>
<text class="sy" font-size="38.5" transform="translate(711.4 748.1) scale(0.995 1)" x="0" y="14.51">♥</text>
<text class="sy" font-size="40.45" transform="translate(794.5 756.1) scale(1.152 1)" x="0" y="14.6">♠</text>
<text class="sy" font-size="41.7" transform="translate(873.5 670.7) scale(1.015 1)" x="0" y="15.45">♦</text>
<text class="sy" font-size="38.5" transform="translate(961.3 718.8) scale(0.995 1)" x="0" y="14.51">♥</text>
<text class="sy" font-size="41.7" transform="translate(1164.4 607.5) scale(1.015 1)" x="0" y="15.45">♦</text>
<text class="sy" font-size="38.5" transform="translate(714.4 547.4) scale(0.995 1)" x="0" y="14.51">♥</text>
<text class="sy" font-size="40.45" transform="translate(801.5 555.1) scale(1.152 1)" x="0" y="14.6">♠</text>
<text class="sy" font-size="41.7" transform="translate(880.8 501.4) scale(1.015 1)" x="0" y="15.45">♦</text>
<text class="sy" font-size="38.5" transform="translate(964.4 525.2) scale(0.995 1)" x="0" y="14.51">♥</text>
<text class="sy" font-size="41.7" transform="translate(1164.7 438.6) scale(1.015 1)" x="0" y="15.45">♦</text>
<text class="sy" font-size="38.5" transform="translate(711.4 241.3) scale(0.995 1)" x="0" y="14.51">♥</text>
<text class="sy" font-size="40.45" transform="translate(797.5 249.2) scale(1.152 1)" x="0" y="14.6">♠</text>
<text class="sy" font-size="41.7" transform="translate(880.8 202.5) scale(1.015 1)" x="0" y="15.45">♦</text>
<text class="sy" font-size="38.5" transform="translate(963.5 187.2) scale(0.995 1)" x="0" y="14.51">♥</text>
<text class="sy" font-size="41.7" transform="translate(1166.8 55.3) scale(1.015 1)" x="0" y="15.45">♦</text>
</g>
<g>
<g><text class="sy" font-size="41.7" transform="translate(1589.5 93.7) scale(1.015 1)" x="0" y="15.45">♦</text><text class="lg" font-size="56.1" transform="translate(1608.6 108.6) scale(1 1.073)">Cu</text></g>
<g><text class="sy" font-size="38.5" transform="translate(1590.5 165.1) scale(0.995 1)" x="0" y="14.51">♥</text><text class="lg" font-size="56.1" transform="translate(1608.7 179.4) scale(1 1.073)">CrC</text></g>
<g><text class="sy" font-size="40.45" transform="translate(1590.7 235.7) scale(1.152 1)" x="0" y="14.6">♠</text><text class="lg" font-size="56.1" transform="translate(1608.6 249.6) scale(1 1.073)">ZrC</text></g>
</g>
<text class="tk" font-size="64.5" transform="translate(190.2 1288.4) scale(1 1.067)">30</text>
<text class="tk" font-size="64.5" transform="translate(524.7 1288.4) scale(1 1.067)">40</text>
<text class="tk" font-size="64.5" transform="translate(859.2 1288.4) scale(1 1.067)">50</text>
<text class="tk" font-size="64.5" transform="translate(1193.6 1288.4) scale(1 1.067)">60</text>
<text class="tk" font-size="64.5" transform="translate(1528.1 1288.4) scale(1 1.067)">70</text>
<g><text class="ar" font-size="93.4" transform="translate(903.7 1423.6) scale(1 1.0)">2</text><text class="lg" font-size="91.9" transform="translate(954.6 1423.7) scale(1 0.913)">θ</text><text class="lg" font-size="85.3" transform="translate(1002.1 1422.2) scale(1 1.087)">(</text><text class="sy" font-size="51.7" transform="translate(1039.5 1416.5) scale(1 1)">◦</text><text class="lg" font-size="85.3" transform="translate(1049.3 1422.2) scale(1 1.087)">)</text></g>
<text class="yl" font-size="92.2" transform="translate(76.0 673.9) rotate(-90) scale(1.008 1)">Intensity(a.u.)</text>
</svg>
</body>
</html>
